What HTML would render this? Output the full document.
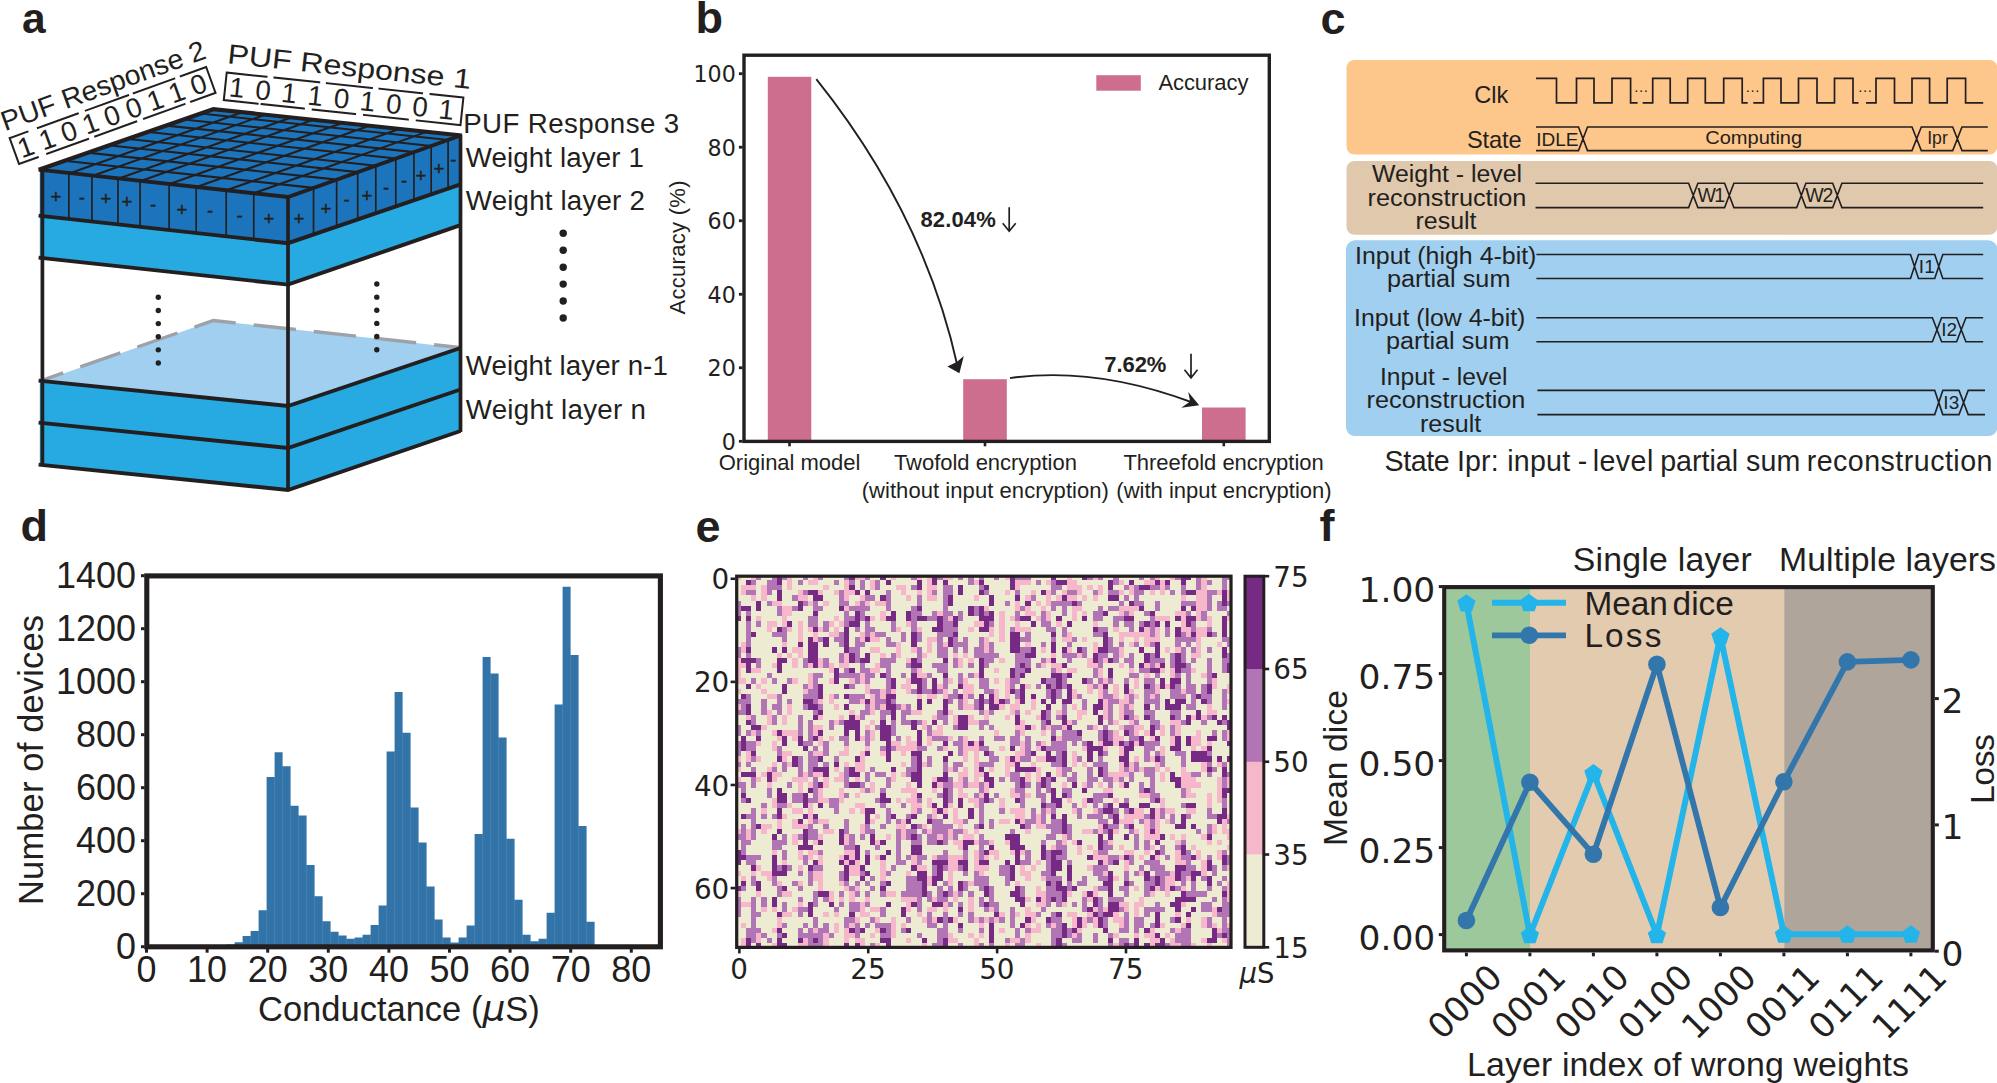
<!DOCTYPE html>
<html lang="en">
<head>
<meta charset="utf-8">
<title>Figure: PUF-based weight encryption</title>
<style>
html,body{margin:0;padding:0;background:#fff;}
body{width:1997px;height:1083px;overflow:hidden;}
svg{display:block;}
text{fill:#231F20;}
.s{font-family:"Liberation Sans",Arial,Helvetica,sans-serif;}
.d{font-family:"DejaVu Sans",Verdana,sans-serif;}
</style>
</head>
<body>
<svg width="1997" height="1083" viewBox="0 0 1997 1083">
<rect width="1997" height="1083" fill="#fff"/>
<g id="panel-a">
<text class="s" x="22" y="33.3" font-size="42.5" font-weight="bold" >a</text>
<polygon points="39.8,381 288,406 288,448 39.8,423" fill="#27AAE1" />
<polygon points="288,406 460.5,348 460.5,389.5 288,448" fill="#27AAE1" />
<polygon points="39.8,423 288,448 288,490 39.8,465" fill="#27AAE1" />
<polygon points="288,448 460.5,389.5 460.5,431 288,490" fill="#27AAE1" />
<polygon points="42.4,381 213.3,320.5 460.5,348 288,406" fill="#A0CFF0" />
<path d="M43.4 379.8 L213.3 320.5 L459.5 347.5" fill="none" stroke="#9DA2A8" stroke-width="3.4" stroke-dasharray="42.5 18" stroke-dashoffset="21.5"/>
<polygon points="39.8,216 288,243.2 288,284.6 39.8,258" fill="#27AAE1" />
<polygon points="288,243.2 460.5,184.3 460.5,225.2 288,284.6" fill="#27AAE1" />
<polygon points="39.8,170 288,197 288,243.2 39.8,216" fill="#1C75BC" />
<polygon points="288,197 460.5,135.5 460.5,184.3 288,243.2" fill="#1C75BC" />
<polygon points="41,170 213.3,109.2 460.8,135.5 288,197" fill="#1C75BC" />
<path d="M69.9 173.16L242.26 112.28M92.87 175.67L265.27 114.72M118.81 178.5L291.26 117.48M140.79 180.91L313.29 119.83M169.69 184.07L342.25 122.9M196.61 187.01L369.23 125.77M226.5 190.28L399.17 128.95M253.91 193.27L426.65 131.87M66.5 161L313.57 187.9M89.59 152.85L336.73 179.66M110.61 145.44L357.81 172.15M128.7 139.05L375.96 165.7M148.69 132L396 158.56M166.78 125.62L414.14 152.1M184.01 119.54L431.42 145.95M200.89 113.58L448.36 139.93" fill="none" stroke="#231F20" stroke-width="2.1"/>
<path d="M68.84 173.16V219.18M91.92 175.67V221.71M117.98 178.5V224.57M140.07 180.91V226.99M169.11 184.07V230.17M196.17 187.01V233.14M226.2 190.28V236.43M253.75 193.27V239.45M313.53 187.9V234.48M336.64 179.66V226.59M357.69 172.15V219.4M375.8 165.7V213.22M395.81 158.56V206.39M413.93 152.11V200.2M431.17 145.96V194.31M448.08 139.93V188.54" fill="none" stroke="#231F20" stroke-width="1.7"/>
<path d="M38.6 169.6L288 197L460.5 135.5M38.6 215.6L288 243.2L460.5 184.3M38.6 257.6L288 284.6L460.5 225.2M38.6 380.6L288 406L460.5 348M38.6 422.6L288 448L460.5 389.5M38.6 464.6L288 490L460.5 431" fill="none" stroke="#231F20" stroke-width="3.9" stroke-linejoin="miter"/>
<path d="M38.8 169.7L213.3 109.2L461.8 135.5" fill="none" stroke="#231F20" stroke-width="4.2" stroke-linejoin="miter"/>
<path d="M42.4 170V466M288 197V491M460.5 134.5V432" fill="none" stroke="#231F20" stroke-width="3.7"/>
<text class="s" x="56" y="202.98" font-size="18.5" text-anchor="middle" stroke="#231F20" stroke-width="0.45">+</text>
<text class="s" x="81.8" y="203.6" font-size="18.5" text-anchor="middle" stroke="#231F20" stroke-width="0.45">-</text>
<text class="s" x="106" y="204.98" font-size="18.5" text-anchor="middle" stroke="#231F20" stroke-width="0.45">+</text>
<text class="s" x="127" y="207.68" font-size="18.5" text-anchor="middle" stroke="#231F20" stroke-width="0.45">+</text>
<text class="s" x="153" y="211.1" font-size="18.5" text-anchor="middle" stroke="#231F20" stroke-width="0.45">-</text>
<text class="s" x="182" y="215.68" font-size="18.5" text-anchor="middle" stroke="#231F20" stroke-width="0.45">+</text>
<text class="s" x="210" y="217.1" font-size="18.5" text-anchor="middle" stroke="#231F20" stroke-width="0.45">-</text>
<text class="s" x="239.5" y="222.1" font-size="18.5" text-anchor="middle" stroke="#231F20" stroke-width="0.45">-</text>
<text class="s" x="269" y="224.68" font-size="18.5" text-anchor="middle" stroke="#231F20" stroke-width="0.45">+</text>
<text class="s" x="299" y="224.68" font-size="18.5" text-anchor="middle" stroke="#231F20" stroke-width="0.45">+</text>
<text class="s" x="326" y="215.48" font-size="18.5" text-anchor="middle" stroke="#231F20" stroke-width="0.45">+</text>
<text class="s" x="346.7" y="206.1" font-size="18.5" text-anchor="middle" stroke="#231F20" stroke-width="0.45">-</text>
<text class="s" x="367" y="201.68" font-size="18.5" text-anchor="middle" stroke="#231F20" stroke-width="0.45">+</text>
<text class="s" x="386" y="193.6" font-size="18.5" text-anchor="middle" stroke="#231F20" stroke-width="0.45">-</text>
<text class="s" x="404.2" y="186.8" font-size="18.5" text-anchor="middle" stroke="#231F20" stroke-width="0.45">-</text>
<text class="s" x="421" y="181.78" font-size="18.5" text-anchor="middle" stroke="#231F20" stroke-width="0.45">+</text>
<text class="s" x="438.9" y="174.68" font-size="18.5" text-anchor="middle" stroke="#231F20" stroke-width="0.45">+</text>
<text class="s" x="453.3" y="165.7" font-size="18.5" text-anchor="middle" stroke="#231F20" stroke-width="0.45">-</text>
<g fill="#231F20">
<circle cx="158.3" cy="297.3" r="2.7"/><circle cx="158.3" cy="310.44" r="2.7"/><circle cx="158.3" cy="323.58" r="2.7"/><circle cx="158.3" cy="336.72" r="2.7"/><circle cx="158.3" cy="349.86" r="2.7"/><circle cx="158.3" cy="363" r="2.7"/>
<circle cx="376.8" cy="284" r="2.7"/><circle cx="376.8" cy="297.14" r="2.7"/><circle cx="376.8" cy="310.28" r="2.7"/><circle cx="376.8" cy="323.42" r="2.7"/><circle cx="376.8" cy="336.56" r="2.7"/><circle cx="376.8" cy="349.7" r="2.7"/>
<circle cx="563.2" cy="233.3" r="3.7"/><circle cx="563.2" cy="250.24" r="3.7"/><circle cx="563.2" cy="267.18" r="3.7"/><circle cx="563.2" cy="284.12" r="3.7"/><circle cx="563.2" cy="301.06" r="3.7"/><circle cx="563.2" cy="318" r="3.7"/>
</g>
<text class="s" x="463.2" y="132.8" font-size="27.7" textLength="216" lengthAdjust="spacing" >PUF Response 3</text>
<text class="s" x="465.8" y="166.7" font-size="27.7" textLength="178" lengthAdjust="spacing" >Weight layer 1</text>
<text class="s" x="465.8" y="209.9" font-size="27.7" textLength="179" lengthAdjust="spacing" >Weight layer 2</text>
<text class="s" x="465.8" y="374.6" font-size="27.7" textLength="202" lengthAdjust="spacing" >Weight layer n-1</text>
<text class="s" x="465.8" y="418.6" font-size="27.7" textLength="180" lengthAdjust="spacing" >Weight layer n</text>
<g transform="translate(19 164) rotate(-19.9)">
<path d="M0 0V-27.5M209 0V-27.5M0 -27.5H19M30 -27.5H72.5M81 -27.5H126M132 -27.5H175M182 -27.5H209M0 0H20M30 0H73.5M81 0H124.7M133 0H176M183 0H209" fill="none" stroke="#231F20" stroke-width="2" stroke-linecap="square"/>
<text class="s" x="4.5" y="-4.2" font-size="27.7" textLength="199" lengthAdjust="spacing" >1 1 0 1 0 0 1 1 0</text>
<text class="s" x="-2" y="-35.5" font-size="27.7" textLength="215.5" lengthAdjust="spacingAndGlyphs" >PUF Response 2</text>
</g>
<g transform="translate(223.8 100.1) rotate(6.03)">
<path d="M0 0V-27.7M238 0V-27.7M0 -27.7H40M48 -27.7H93M100.7 -27.7H146M153.6 -27.7H196.4M205 -27.7H238M0 0H34M38 0H80.5M89.4 0H132M141 0H185M194 0H238" fill="none" stroke="#231F20" stroke-width="2" stroke-linecap="square"/>
<text class="s" x="4" y="-4.4" font-size="27.7" textLength="226" lengthAdjust="spacing" >1 0 1 1 0 1 0 0 1</text>
<text class="s" x="-1" y="-37" font-size="27.7" textLength="245" lengthAdjust="spacingAndGlyphs" >PUF Response 1</text>
</g>
</g>
<g id="panel-b">
<text class="s" x="695.5" y="33.3" font-size="45" font-weight="bold" >b</text>
<rect x="767.8" y="76.8" width="43.5" height="364.6" fill="#CE6E8F" />
<rect x="963.2" y="379.2" width="43.6" height="62.2" fill="#CE6E8F" />
<rect x="1202" y="407.5" width="43.6" height="33.9" fill="#CE6E8F" />
<rect x="744" y="55.2" width="525.3" height="386.2" fill="none" stroke="#231F20" stroke-width="3.4" />
<line x1="738.9" y1="441.3" x2="742.5" y2="441.3" stroke="#231F20" stroke-width="2.8" />
<text class="d" x="735.8" y="449.9" font-size="23.5" text-anchor="end" textLength="14.1" lengthAdjust="spacingAndGlyphs" >0</text>
<line x1="738.9" y1="367.78" x2="742.5" y2="367.78" stroke="#231F20" stroke-width="2.8" />
<text class="d" x="735.8" y="376.38" font-size="23.5" text-anchor="end" textLength="28.2" lengthAdjust="spacingAndGlyphs" >20</text>
<line x1="738.9" y1="294.26" x2="742.5" y2="294.26" stroke="#231F20" stroke-width="2.8" />
<text class="d" x="735.8" y="302.86" font-size="23.5" text-anchor="end" textLength="28.2" lengthAdjust="spacingAndGlyphs" >40</text>
<line x1="738.9" y1="220.74" x2="742.5" y2="220.74" stroke="#231F20" stroke-width="2.8" />
<text class="d" x="735.8" y="229.34" font-size="23.5" text-anchor="end" textLength="28.2" lengthAdjust="spacingAndGlyphs" >60</text>
<line x1="738.9" y1="147.22" x2="742.5" y2="147.22" stroke="#231F20" stroke-width="2.8" />
<text class="d" x="735.8" y="155.82" font-size="23.5" text-anchor="end" textLength="28.2" lengthAdjust="spacingAndGlyphs" >80</text>
<line x1="738.9" y1="73.7" x2="742.5" y2="73.7" stroke="#231F20" stroke-width="2.8" />
<text class="d" x="735.8" y="82.3" font-size="23.5" text-anchor="end" textLength="42.3" lengthAdjust="spacingAndGlyphs" >100</text>
<line x1="789.5" y1="443" x2="789.5" y2="446.3" stroke="#231F20" stroke-width="2.6" />
<line x1="985" y1="443" x2="985" y2="446.3" stroke="#231F20" stroke-width="2.6" />
<line x1="1223.8" y1="443" x2="1223.8" y2="446.3" stroke="#231F20" stroke-width="2.6" />
<text class="s" font-size="22" text-anchor="middle" textLength="134" lengthAdjust="spacing" transform="translate(684.6 247.5) rotate(-90)" >Accuracy (%)</text>
<text class="s" x="789.6" y="469.9" font-size="22" text-anchor="middle" textLength="141.7" lengthAdjust="spacing" >Original model</text>
<text class="s" x="985.4" y="469.9" font-size="22" text-anchor="middle" textLength="183" lengthAdjust="spacing" >Twofold encryption</text>
<text class="s" x="985.3" y="498.3" font-size="22" text-anchor="middle" textLength="247.3" lengthAdjust="spacing" >(without input encryption)</text>
<text class="s" x="1223.6" y="469.9" font-size="22" text-anchor="middle" textLength="200.4" lengthAdjust="spacing" >Threefold encryption</text>
<text class="s" x="1224" y="498.3" font-size="22" text-anchor="middle" textLength="215.4" lengthAdjust="spacing" >(with input encryption)</text>
<rect x="1096.3" y="75.2" width="44.5" height="15.5" fill="#CE6E8F" />
<text class="s" x="1158.4" y="90.2" font-size="22" textLength="90" lengthAdjust="spacing" >Accuracy</text>
<text class="s" x="920.5" y="227.2" font-size="22" font-weight="bold" textLength="75.2" lengthAdjust="spacing" >82.04%</text>
<path d="M1009.2 207.2V231.2M1002.7 223.2L1009.2 231.2L1015.7 223.2" fill="none" stroke="#231F20" stroke-width="1.7" stroke-linejoin="miter"/>
<text class="s" x="1104.2" y="372.2" font-size="22" font-weight="bold" textLength="62.2" lengthAdjust="spacing" >7.62%</text>
<path d="M1191 353.8V377.8M1184.5 369.8L1191 377.8L1197.5 369.8" fill="none" stroke="#231F20" stroke-width="1.7" stroke-linejoin="miter"/>
<path d="M816.3 79.2Q924 214 957.6 366.5" fill="none" stroke="#231F20" stroke-width="1.9"/>
<polygon points="959.4,373.2 947.4,366.6 956.8,362 963.8,356" fill="#231F20" />
<path d="M1010 378.1Q1095 366 1192.5 402.5" fill="none" stroke="#231F20" stroke-width="1.9"/>
<polygon points="1199.2,405.3 1181.2,407.8 1190.2,401.6 1188.2,391.9" fill="#231F20" />
</g>
<g id="panel-c">
<text class="s" x="1320.5" y="33.5" font-size="45" font-weight="bold" >c</text>
<rect x="1346.5" y="60" width="650.8" height="94.6" rx="8" fill="#FDC68A"/>
<rect x="1346.5" y="161" width="650.8" height="73.8" rx="8" fill="#E0C8AC"/>
<rect x="1346" y="240.3" width="651.3" height="195.8" rx="9" fill="#A1CFF0"/>
<path d="M1536 78.3H1556.5V102.8H1576.5V78.3H1594V102.8H1612V78.3H1630.6V102.8H1637.6M1642.6 102.8H1652.7V78.3H1670.2V102.8H1687.7V78.3H1705.3V102.8H1723.7V78.3H1742.2V102.8H1747.7M1753.3 102.8H1763.4V78.3H1781V102.8H1798.5V78.3H1817V102.8H1834.5V78.3H1853V102.8H1858.5M1866 102.8H1876V78.3H1894.5V102.8H1912V78.3H1929.6V102.8H1947.2V78.3H1965.6V102.8H1983.2" fill="none" stroke="#231F20" stroke-width="1.7" stroke-linejoin="miter"/>
<text class="s" x="1634.2" y="91.5" font-size="15" textLength="13.6" lengthAdjust="spacing" >...</text>
<text class="s" x="1745.8" y="91.5" font-size="15" textLength="13.6" lengthAdjust="spacing" >...</text>
<text class="s" x="1858.2" y="91.5" font-size="15" textLength="13.6" lengthAdjust="spacing" >...</text>
<text class="s" x="1474.3" y="103" font-size="23.6" textLength="34" lengthAdjust="spacing" >Clk</text>
<text class="s" x="1467" y="148.2" font-size="23.6" textLength="54.5" lengthAdjust="spacing" >State</text>
<path d="M1536 127H1578.5L1587.5 150.6H1912L1921.3 127H1952.7L1962 150.6H1987.8M1536 150.6H1578.5L1587.5 127H1912L1921.3 150.6H1952.7L1962 127H1987.8" fill="none" stroke="#231F20" stroke-width="1.6" stroke-linejoin="miter"/>
<text class="s" x="1536.2" y="145.8" font-size="19" textLength="42.3" lengthAdjust="spacingAndGlyphs" >IDLE</text>
<text class="s" x="1753.7" y="143.8" font-size="19" text-anchor="middle" textLength="97" lengthAdjust="spacingAndGlyphs" >Computing</text>
<text class="s" x="1937.5" y="143.8" font-size="19" text-anchor="middle" textLength="20.6" lengthAdjust="spacingAndGlyphs" >Ipr</text>
<text class="s" x="1447" y="181.5" font-size="23" text-anchor="middle" textLength="150" lengthAdjust="spacingAndGlyphs" >Weight - level</text>
<text class="s" x="1447" y="205.5" font-size="23" text-anchor="middle" textLength="158.8" lengthAdjust="spacingAndGlyphs" >reconstruction</text>
<text class="s" x="1446" y="229.4" font-size="23" text-anchor="middle" textLength="61" lengthAdjust="spacingAndGlyphs" >result</text>
<path d="M1535.5 183.2H1688.6L1697.9 207.6H1724.6L1733.9 183.2H1796.7L1805.9 207.6H1832.7L1841.9 183.2H1983.2M1535.5 207.6H1688.6L1697.9 183.2H1724.6L1733.9 207.6H1796.7L1805.9 183.2H1832.7L1841.9 207.6H1983.2" fill="none" stroke="#231F20" stroke-width="1.6" stroke-linejoin="miter"/>
<text class="s" x="1711.3" y="201.7" font-size="19.5" text-anchor="middle" textLength="27.5" lengthAdjust="spacing" >W1</text>
<text class="s" x="1819.3" y="201.7" font-size="19.5" text-anchor="middle" textLength="28" lengthAdjust="spacing" >W2</text>
<text class="s" x="1445.7" y="263.8" font-size="23" text-anchor="middle" textLength="181.4" lengthAdjust="spacingAndGlyphs" >Input (high 4-bit)</text>
<text class="s" x="1448.7" y="286.9" font-size="23" text-anchor="middle" textLength="123.4" lengthAdjust="spacingAndGlyphs" >partial sum</text>
<path d="M1536.4 254.5H1910.5L1918.5 278.5H1934.7L1942.8 254.5H1983.2M1536.4 278.5H1910.5L1918.5 254.5H1934.7L1942.8 278.5H1983.2" fill="none" stroke="#231F20" stroke-width="1.6" stroke-linejoin="miter"/>
<text class="s" x="1926.8" y="272.7" font-size="19" text-anchor="middle" >I1</text>
<text class="s" x="1439.7" y="326" font-size="23" text-anchor="middle" textLength="171.4" lengthAdjust="spacingAndGlyphs" >Input (low 4-bit)</text>
<text class="s" x="1447.7" y="349.2" font-size="23" text-anchor="middle" textLength="123.4" lengthAdjust="spacingAndGlyphs" >partial sum</text>
<path d="M1536.4 317.7H1932.4L1941.6 341.8H1956.6L1965.9 317.7H1983.2M1536.4 341.8H1932.4L1941.6 317.7H1956.6L1965.9 341.8H1983.2" fill="none" stroke="#231F20" stroke-width="1.6" stroke-linejoin="miter"/>
<text class="s" x="1949.2" y="336.4" font-size="19" text-anchor="middle" >I2</text>
<text class="s" x="1443.7" y="385.2" font-size="23" text-anchor="middle" textLength="127.4" lengthAdjust="spacingAndGlyphs" >Input - level</text>
<text class="s" x="1446" y="408.3" font-size="23" text-anchor="middle" textLength="158.9" lengthAdjust="spacingAndGlyphs" >reconstruction</text>
<text class="s" x="1450.6" y="432.3" font-size="23" text-anchor="middle" textLength="61.3" lengthAdjust="spacingAndGlyphs" >result</text>
<path d="M1537.4 390.4H1934.7L1942.8 414.6H1959L1968.2 390.4H1985M1537.4 414.6H1934.7L1942.8 390.4H1959L1968.2 414.6H1985" fill="none" stroke="#231F20" stroke-width="1.6" stroke-linejoin="miter"/>
<text class="s" x="1951.3" y="408.9" font-size="19" text-anchor="middle" >I3</text>
<text class="s" y="470.6" font-size="28.6"><tspan x="1384.41" textLength="65.37" lengthAdjust="spacing">State</tspan> <tspan x="1456.93" textLength="41.77" lengthAdjust="spacing">Ipr:</tspan> <tspan x="1507.14" textLength="62.97" lengthAdjust="spacing">input</tspan> <tspan x="1577.66">- </tspan><tspan x="1592.64" textLength="60.67" lengthAdjust="spacing">level</tspan> <tspan x="1660.14" textLength="77.97" lengthAdjust="spacing">partial</tspan> <tspan x="1745.94" textLength="54.37" lengthAdjust="spacing">sum</tspan> <tspan x="1806.74" textLength="185.67" lengthAdjust="spacing">reconstruction</tspan></text>
</g>
<g id="panel-d">
<text class="s" x="20.5" y="541.3" font-size="45" font-weight="bold" >d</text>
<path d="M218.6 946.7V945.91H226.6V944.58H234.6V942.2H242.6V936.1H250.6V931.07H258.6V910.13H266.6V777.1H274.6V752.19H282.6V766.24H290.6V805.72H298.6V815.53H306.6V865.08H314.6V896.35H322.6V921.26H330.6V931.86H338.6V935.57H346.6V938.75H354.6V937.43H362.6V934.78H370.6V924.97H378.6V905.62H386.6V751.39H394.6V692.04H402.6V732.85H410.6V807.58H418.6V842.56H426.6V886.55H434.6V919.41H442.6V937.43H450.6V942.46H458.6V937.43H466.6V925.5H474.6V834.08H482.6V657.06H490.6V673.49H498.6V737.62H506.6V838.85H514.6V899.8H522.6V934.78H530.6V941.13H538.6V938.75H546.6V912.78H554.6V704.49H562.6V586.83H570.6V654.94H578.6V826.12H586.6V921.79H594.6V946.7Z" fill="#3274A8"/>
<path d="M234.6 944.58V946.7M242.6 942.2V946.7M250.6 936.1V946.7M258.6 931.07V946.7M266.6 910.13V946.7M274.6 777.1V946.7M282.6 766.24V946.7M290.6 805.72V946.7M298.6 815.53V946.7M306.6 865.08V946.7M314.6 896.35V946.7M322.6 921.26V946.7M330.6 931.86V946.7M338.6 935.57V946.7M346.6 938.75V946.7M354.6 938.75V946.7M362.6 937.43V946.7M370.6 934.78V946.7M378.6 924.97V946.7M386.6 905.62V946.7M394.6 751.39V946.7M402.6 732.85V946.7M410.6 807.58V946.7M418.6 842.56V946.7M426.6 886.55V946.7M434.6 919.41V946.7M442.6 937.43V946.7M450.6 942.46V946.7M458.6 942.46V946.7M466.6 937.43V946.7M474.6 925.5V946.7M482.6 834.08V946.7M490.6 673.49V946.7M498.6 737.62V946.7M506.6 838.85V946.7M514.6 899.8V946.7M522.6 934.78V946.7M530.6 941.13V946.7M538.6 941.13V946.7M546.6 938.75V946.7M554.6 912.78V946.7M562.6 704.49V946.7M570.6 654.94V946.7M578.6 826.12V946.7M586.6 921.79V946.7" fill="none" stroke="#5A8FBC" stroke-width="0.5"/>
<rect x="146.8" y="575.9" width="513.6" height="370.9" fill="none" stroke="#231F20" stroke-width="5.1" />
<line x1="141" y1="946.7" x2="144.6" y2="946.7" stroke="#231F20" stroke-width="3" />
<text class="s" x="135.9" y="959.3" font-size="37.4" text-anchor="end" textLength="20" lengthAdjust="spacingAndGlyphs" >0</text>
<line x1="141" y1="893.7" x2="144.6" y2="893.7" stroke="#231F20" stroke-width="3" />
<text class="s" x="135.9" y="906.3" font-size="37.4" text-anchor="end" textLength="60" lengthAdjust="spacingAndGlyphs" >200</text>
<line x1="141" y1="840.7" x2="144.6" y2="840.7" stroke="#231F20" stroke-width="3" />
<text class="s" x="135.9" y="853.3" font-size="37.4" text-anchor="end" textLength="60" lengthAdjust="spacingAndGlyphs" >400</text>
<line x1="141" y1="787.7" x2="144.6" y2="787.7" stroke="#231F20" stroke-width="3" />
<text class="s" x="135.9" y="800.3" font-size="37.4" text-anchor="end" textLength="60" lengthAdjust="spacingAndGlyphs" >600</text>
<line x1="141" y1="734.7" x2="144.6" y2="734.7" stroke="#231F20" stroke-width="3" />
<text class="s" x="135.9" y="747.3" font-size="37.4" text-anchor="end" textLength="60" lengthAdjust="spacingAndGlyphs" >800</text>
<line x1="141" y1="681.7" x2="144.6" y2="681.7" stroke="#231F20" stroke-width="3" />
<text class="s" x="135.9" y="694.3" font-size="37.4" text-anchor="end" textLength="80" lengthAdjust="spacingAndGlyphs" >1000</text>
<line x1="141" y1="628.7" x2="144.6" y2="628.7" stroke="#231F20" stroke-width="3" />
<text class="s" x="135.9" y="641.3" font-size="37.4" text-anchor="end" textLength="80" lengthAdjust="spacingAndGlyphs" >1200</text>
<line x1="141" y1="575.7" x2="144.6" y2="575.7" stroke="#231F20" stroke-width="3" />
<text class="s" x="135.9" y="588.3" font-size="37.4" text-anchor="end" textLength="80" lengthAdjust="spacingAndGlyphs" >1400</text>
<line x1="146.5" y1="949" x2="146.5" y2="952.7" stroke="#231F20" stroke-width="3" />
<text class="s" x="146.5" y="981.9" font-size="37.4" text-anchor="middle" textLength="20" lengthAdjust="spacingAndGlyphs" >0</text>
<line x1="207.1" y1="949" x2="207.1" y2="952.7" stroke="#231F20" stroke-width="3" />
<text class="s" x="207.1" y="981.9" font-size="37.4" text-anchor="middle" textLength="40" lengthAdjust="spacingAndGlyphs" >10</text>
<line x1="267.7" y1="949" x2="267.7" y2="952.7" stroke="#231F20" stroke-width="3" />
<text class="s" x="267.7" y="981.9" font-size="37.4" text-anchor="middle" textLength="40" lengthAdjust="spacingAndGlyphs" >20</text>
<line x1="328.3" y1="949" x2="328.3" y2="952.7" stroke="#231F20" stroke-width="3" />
<text class="s" x="328.3" y="981.9" font-size="37.4" text-anchor="middle" textLength="40" lengthAdjust="spacingAndGlyphs" >30</text>
<line x1="388.9" y1="949" x2="388.9" y2="952.7" stroke="#231F20" stroke-width="3" />
<text class="s" x="388.9" y="981.9" font-size="37.4" text-anchor="middle" textLength="40" lengthAdjust="spacingAndGlyphs" >40</text>
<line x1="449.5" y1="949" x2="449.5" y2="952.7" stroke="#231F20" stroke-width="3" />
<text class="s" x="449.5" y="981.9" font-size="37.4" text-anchor="middle" textLength="40" lengthAdjust="spacingAndGlyphs" >50</text>
<line x1="510.1" y1="949" x2="510.1" y2="952.7" stroke="#231F20" stroke-width="3" />
<text class="s" x="510.1" y="981.9" font-size="37.4" text-anchor="middle" textLength="40" lengthAdjust="spacingAndGlyphs" >60</text>
<line x1="570.7" y1="949" x2="570.7" y2="952.7" stroke="#231F20" stroke-width="3" />
<text class="s" x="570.7" y="981.9" font-size="37.4" text-anchor="middle" textLength="40" lengthAdjust="spacingAndGlyphs" >70</text>
<line x1="631.3" y1="949" x2="631.3" y2="952.7" stroke="#231F20" stroke-width="3" />
<text class="s" x="631.3" y="981.9" font-size="37.4" text-anchor="middle" textLength="40" lengthAdjust="spacingAndGlyphs" >80</text>
<text class="s" font-size="34.5" text-anchor="middle" textLength="290" lengthAdjust="spacing" transform="translate(42.7 760) rotate(-90)" >Number of devices</text>
<text class="s" x="258" y="1021.2" font-size="34.5">Conductance (<tspan class="d" font-style="italic" font-size="36">μ</tspan>S)</text>
</g>
<g id="panel-e">
<text class="s" x="695.5" y="542" font-size="45" font-weight="bold" >e</text>
<rect x="735.5" y="574.6" width="496.9" height="374" fill="#EDECD3" />
<g transform="translate(735.5 574.6) scale(5.1760 5.1944)" shape-rendering="crispEdges">
<path d="M0 0v1h1v-1zM0 16v5h1v-5zM0 22v1h1v-1zM0 25v1h1v-1zM0 35v1h1v-1zM0 37v1h1v-1zM0 39v1h1v-1zM0 49v1h1v-1zM0 57v1h1v-1zM0 61v1h1v-1zM1 2v2h1v-2zM1 13v2h1v-2zM1 17v1h1v-1zM1 20v1h1v-1zM1 58v1h1v-1zM1 63v1h1v-1zM1 67v1h1v-1zM1 70v2h1v-2zM2 2v1h1v-1zM2 27v1h1v-1zM2 34v2h1v-2zM2 49v2h1v-2zM2 63v1h1v-1zM3 0v1h1v-1zM3 2v1h1v-1zM3 4v1h1v-1zM3 18v1h1v-1zM3 30v1h1v-1zM3 57v1h1v-1zM4 8v1h1v-1zM4 18v1h1v-1zM4 21v1h1v-1zM4 32v1h1v-1zM4 35v1h1v-1zM4 39v1h1v-1zM4 56v1h1v-1zM4 61v1h1v-1zM4 69v2h1v-2zM5 2v3h1v-3zM5 20v1h1v-1zM5 22v1h1v-1zM5 29v1h1v-1zM5 38v1h1v-1zM5 45v1h1v-1zM5 48v2h1v-2zM5 57v1h1v-1zM5 64v1h1v-1zM6 9v2h1v-2zM6 23v1h1v-1zM6 26v3h1v-3zM6 37v1h1v-1zM6 40v1h1v-1zM6 48v1h1v-1zM6 57v2h1v-2zM7 5v1h1v-1zM7 9v1h1v-1zM7 17v1h1v-1zM7 23v1h1v-1zM7 30v1h1v-1zM7 32v2h1v-2zM7 36v1h1v-1zM7 38v2h1v-2zM7 43v2h1v-2zM7 53v1h1v-1zM7 64v1h1v-1zM7 68v1h1v-1zM7 71v1h1v-1zM8 5v1h1v-1zM8 15v1h1v-1zM8 31v1h1v-1zM8 38v1h1v-1zM8 47v2h1v-2zM8 59v1h1v-1zM8 66v2h1v-2zM9 6v4h1v-4zM9 13v1h1v-1zM9 27v2h1v-2zM9 30v1h1v-1zM9 34v2h1v-2zM9 46v1h1v-1zM9 55v1h1v-1zM9 61v1h1v-1zM9 65v1h1v-1zM10 0v3h1v-3zM10 6v2h1v-2zM10 10v1h1v-1zM10 15v1h1v-1zM10 25v2h1v-2zM10 30v1h1v-1zM10 34v1h1v-1zM10 36v1h1v-1zM10 44v1h1v-1zM10 61v1h1v-1zM10 65v1h1v-1zM11 14v1h1v-1zM11 16v2h1v-2zM11 20v1h1v-1zM11 30v2h1v-2zM11 39v1h1v-1zM11 45v1h1v-1zM11 47v2h1v-2zM11 50v2h1v-2zM11 64v1h1v-1zM12 3v2h1v-2zM12 9v4h1v-4zM12 14v2h1v-2zM12 39v3h1v-3zM12 45v1h1v-1zM12 48v1h1v-1zM12 53v2h1v-2zM12 56v1h1v-1zM12 59v1h1v-1zM12 63v1h1v-1zM12 71v1h1v-1zM13 4v1h1v-1zM13 22v1h1v-1zM13 38v2h1v-2zM13 48v1h1v-1zM13 70v2h1v-2zM14 1v1h1v-1zM14 5v1h1v-1zM14 10v1h1v-1zM14 17v1h1v-1zM14 19v3h1v-3zM14 40v1h1v-1zM14 44v4h1v-4zM14 53v2h1v-2zM15 0v2h1v-2zM15 11v2h1v-2zM15 29v2h1v-2zM15 34v1h1v-1zM15 38v1h1v-1zM15 51v1h1v-1zM15 53v1h1v-1zM15 57v2h1v-2zM15 68v1h1v-1zM16 3v1h1v-1zM16 10v1h1v-1zM16 16v2h1v-2zM16 24v1h1v-1zM16 27v1h1v-1zM16 29v1h1v-1zM16 31v2h1v-2zM16 34v1h1v-1zM16 38v1h1v-1zM16 41v3h1v-3zM16 47v1h1v-1zM16 50v1h1v-1zM16 54v2h1v-2zM16 57v4h1v-4zM17 2v1h1v-1zM17 5v1h1v-1zM17 39v2h1v-2zM17 43v1h1v-1zM17 47v1h1v-1zM17 49v1h1v-1zM17 65v1h1v-1zM17 69v3h1v-3zM18 9v1h1v-1zM18 11v1h1v-1zM18 17v2h1v-2zM18 20v1h1v-1zM18 23v2h1v-2zM18 31v1h1v-1zM18 49v1h1v-1zM18 61v2h1v-2zM19 3v1h1v-1zM19 8v1h1v-1zM19 10v2h1v-2zM19 25v1h1v-1zM19 28v1h1v-1zM19 37v1h1v-1zM19 39v1h1v-1zM19 65v1h1v-1zM19 67v2h1v-2zM20 9v1h1v-1zM20 17v1h1v-1zM20 27v1h1v-1zM20 34v1h1v-1zM20 38v2h1v-2zM20 41v3h1v-3zM20 54v1h1v-1zM20 59v1h1v-1zM20 62v1h1v-1zM21 1v4h1v-4zM21 6v1h1v-1zM21 15v3h1v-3zM21 33v2h1v-2zM21 36v1h1v-1zM21 50v2h1v-2zM21 53v1h1v-1zM21 55v1h1v-1zM21 60v1h1v-1zM21 68v3h1v-3zM22 3v1h1v-1zM22 20v1h1v-1zM22 26v1h1v-1zM22 45v1h1v-1zM22 53v2h1v-2zM22 56v2h1v-2zM22 61v2h1v-2zM22 67v1h1v-1zM22 69v1h1v-1zM23 0v1h1v-1zM23 5v1h1v-1zM23 27v1h1v-1zM23 36v2h1v-2zM23 39v1h1v-1zM23 42v1h1v-1zM23 44v1h1v-1zM23 55v3h1v-3zM23 60v1h1v-1zM23 66v1h1v-1zM23 70v1h1v-1zM24 0v1h1v-1zM24 4v1h1v-1zM24 11v2h1v-2zM24 19v2h1v-2zM24 24v1h1v-1zM24 31v1h1v-1zM24 34v4h1v-4zM24 41v1h1v-1zM24 44v2h1v-2zM24 48v2h1v-2zM24 63v3h1v-3zM24 70v2h1v-2zM25 5v1h1v-1zM25 21v2h1v-2zM25 29v1h1v-1zM25 33v1h1v-1zM25 62v1h1v-1zM25 65v1h1v-1zM26 1v2h1v-2zM26 8v1h1v-1zM26 11v2h1v-2zM26 14v1h1v-1zM26 18v1h1v-1zM26 23v4h1v-4zM26 28v1h1v-1zM26 30v2h1v-2zM26 40v2h1v-2zM26 47v1h1v-1zM26 64v1h1v-1zM26 69v1h1v-1zM27 5v1h1v-1zM27 12v1h1v-1zM27 14v1h1v-1zM27 17v2h1v-2zM27 46v1h1v-1zM27 51v1h1v-1zM27 54v1h1v-1zM27 64v1h1v-1zM27 66v1h1v-1zM27 68v1h1v-1zM27 71v1h1v-1zM28 5v1h1v-1zM28 7v2h1v-2zM28 15v1h1v-1zM28 22v2h1v-2zM28 25v1h1v-1zM28 34v1h1v-1zM28 55v4h1v-4zM29 50v1h1v-1zM29 61v1h1v-1zM30 0v1h1v-1zM30 22v1h1v-1zM30 32v1h1v-1zM30 38v2h1v-2zM30 61v1h1v-1zM30 66v4h1v-4zM31 2v1h1v-1zM31 10v1h1v-1zM31 13v3h1v-3zM31 32v2h1v-2zM31 43v1h1v-1zM31 48v1h1v-1zM32 2v2h1v-2zM32 21v1h1v-1zM32 25v1h1v-1zM32 33v2h1v-2zM32 36v1h1v-1zM32 38v1h1v-1zM32 41v1h1v-1zM32 47v4h1v-4zM32 62v1h1v-1zM32 67v1h1v-1zM33 4v1h1v-1zM33 9v1h1v-1zM33 16v1h1v-1zM33 20v3h1v-3zM33 31v3h1v-3zM33 40v2h1v-2zM33 43v1h1v-1zM33 57v1h1v-1zM33 62v3h1v-3zM33 70v1h1v-1zM34 14v1h1v-1zM34 26v1h1v-1zM34 32v2h1v-2zM34 41v5h1v-5zM34 54v2h1v-2zM34 62v1h1v-1zM35 0v1h1v-1zM35 3v1h1v-1zM35 10v1h1v-1zM35 18v2h1v-2zM35 23v1h1v-1zM35 26v1h1v-1zM35 44v1h1v-1zM35 56v1h1v-1zM35 65v1h1v-1zM36 15v1h1v-1zM36 19v1h1v-1zM36 28v2h1v-2zM36 36v1h1v-1zM36 48v1h1v-1zM36 56v1h1v-1zM36 66v1h1v-1zM36 71v1h1v-1zM37 0v5h1v-5zM37 12v3h1v-3zM37 23v1h1v-1zM37 31v2h1v-2zM37 43v2h1v-2zM37 49v1h1v-1zM37 58v2h1v-2zM37 64v1h1v-1zM38 2v1h1v-1zM38 4v1h1v-1zM38 12v1h1v-1zM38 23v1h1v-1zM38 27v1h1v-1zM38 30v1h1v-1zM38 39v1h1v-1zM38 41v1h1v-1zM38 45v2h1v-2zM38 54v1h1v-1zM38 62v1h1v-1zM38 64v1h1v-1zM38 66v1h1v-1zM39 7v1h1v-1zM39 21v1h1v-1zM39 29v2h1v-2zM39 40v1h1v-1zM39 50v1h1v-1zM40 0v1h1v-1zM40 13v1h1v-1zM40 22v2h1v-2zM40 33v1h1v-1zM40 45v1h1v-1zM40 63v2h1v-2zM41 0v1h1v-1zM41 8v1h1v-1zM41 20v1h1v-1zM41 26v1h1v-1zM41 31v1h1v-1zM41 37v1h1v-1zM41 44v1h1v-1zM41 49v2h1v-2zM41 54v6h1v-6zM41 69v2h1v-2zM42 15v1h1v-1zM42 27v2h1v-2zM42 40v1h1v-1zM42 45v3h1v-3zM42 51v1h1v-1zM42 54v3h1v-3zM42 61v2h1v-2zM42 66v1h1v-1zM42 70v1h1v-1zM43 16v2h1v-2zM43 38v5h1v-5zM43 47v2h1v-2zM43 51v2h1v-2zM43 54v1h1v-1zM44 15v1h1v-1zM44 20v6h1v-6zM44 31v5h1v-5zM44 37v2h1v-2zM44 42v1h1v-1zM44 49v2h1v-2zM45 10v1h1v-1zM45 16v1h1v-1zM45 21v2h1v-2zM45 25v1h1v-1zM45 27v2h1v-2zM45 33v1h1v-1zM45 40v1h1v-1zM45 43v1h1v-1zM45 50v1h1v-1zM45 59v1h1v-1zM45 62v3h1v-3zM45 69v1h1v-1zM46 1v1h1v-1zM46 4v1h1v-1zM46 9v1h1v-1zM46 19v1h1v-1zM46 28v1h1v-1zM46 32v9h1v-9zM46 43v2h1v-2zM46 49v1h1v-1zM46 51v1h1v-1zM46 53v4h1v-4zM46 66v1h1v-1zM46 70v2h1v-2zM47 9v1h1v-1zM47 38v1h1v-1zM47 42v1h1v-1zM47 56v2h1v-2zM47 67v1h1v-1zM47 69v1h1v-1zM48 6v1h1v-1zM48 12v3h1v-3zM48 26v2h1v-2zM48 40v2h1v-2zM48 54v1h1v-1zM48 56v1h1v-1zM48 66v1h1v-1zM49 10v2h1v-2zM49 37v1h1v-1zM49 51v1h1v-1zM49 53v1h1v-1zM49 64v1h1v-1zM50 18v1h1v-1zM50 20v1h1v-1zM50 22v3h1v-3zM50 30v1h1v-1zM50 53v2h1v-2zM50 66v1h1v-1zM51 7v6h1v-6zM51 16v1h1v-1zM51 25v1h1v-1zM51 33v1h1v-1zM51 43v2h1v-2zM51 47v1h1v-1zM51 65v1h1v-1zM51 68v1h1v-1zM52 0v1h1v-1zM52 3v1h1v-1zM52 20v4h1v-4zM52 27v1h1v-1zM52 35v4h1v-4zM52 47v1h1v-1zM52 51v1h1v-1zM52 71v1h1v-1zM53 8v1h1v-1zM53 25v2h1v-2zM53 36v1h1v-1zM53 41v2h1v-2zM53 45v1h1v-1zM53 53v1h1v-1zM53 70v1h1v-1zM54 1v2h1v-2zM54 5v2h1v-2zM54 9v2h1v-2zM54 24v2h1v-2zM54 29v1h1v-1zM54 34v2h1v-2zM54 42v1h1v-1zM54 45v2h1v-2zM54 59v1h1v-1zM54 65v1h1v-1zM54 70v1h1v-1zM55 1v1h1v-1zM55 10v1h1v-1zM55 28v3h1v-3zM55 32v3h1v-3zM55 45v3h1v-3zM55 53v1h1v-1zM55 56v2h1v-2zM56 1v1h1v-1zM56 4v1h1v-1zM56 6v2h1v-2zM56 10v1h1v-1zM56 13v1h1v-1zM56 21v1h1v-1zM56 26v1h1v-1zM56 38v2h1v-2zM56 42v1h1v-1zM56 49v1h1v-1zM56 57v2h1v-2zM56 62v1h1v-1zM56 64v2h1v-2zM56 67v1h1v-1zM56 69v2h1v-2zM57 3v1h1v-1zM57 7v1h1v-1zM57 24v2h1v-2zM57 29v1h1v-1zM57 36v1h1v-1zM57 56v1h1v-1zM57 65v2h1v-2zM57 68v1h1v-1zM58 5v1h1v-1zM58 8v1h1v-1zM58 27v1h1v-1zM58 33v1h1v-1zM58 35v1h1v-1zM58 37v3h1v-3zM58 46v3h1v-3zM58 55v1h1v-1zM58 60v2h1v-2zM58 63v1h1v-1zM58 67v2h1v-2zM58 71v1h1v-1zM59 6v1h1v-1zM59 14v1h1v-1zM59 17v1h1v-1zM59 30v1h1v-1zM59 32v1h1v-1zM59 35v1h1v-1zM59 48v1h1v-1zM59 58v1h1v-1zM59 61v3h1v-3zM60 1v1h1v-1zM60 3v3h1v-3zM60 7v2h1v-2zM60 16v1h1v-1zM60 29v1h1v-1zM60 45v1h1v-1zM61 15v1h1v-1zM61 17v1h1v-1zM61 52v1h1v-1zM61 67v1h1v-1zM62 4v1h1v-1zM62 9v1h1v-1zM62 17v2h1v-2zM62 26v1h1v-1zM62 31v1h1v-1zM62 37v2h1v-2zM63 3v1h1v-1zM63 12v1h1v-1zM63 29v1h1v-1zM63 40v1h1v-1zM63 50v2h1v-2zM63 63v1h1v-1zM64 0v3h1v-3zM64 4v1h1v-1zM64 11v2h1v-2zM64 14v1h1v-1zM64 18v1h1v-1zM64 28v1h1v-1zM64 43v1h1v-1zM64 61v1h1v-1zM64 65v1h1v-1zM65 1v2h1v-2zM65 4v1h1v-1zM65 6v3h1v-3zM65 18v1h1v-1zM65 22v2h1v-2zM65 25v1h1v-1zM65 34v3h1v-3zM65 45v1h1v-1zM65 51v1h1v-1zM65 65v3h1v-3zM65 69v1h1v-1zM66 2v2h1v-2zM66 6v1h1v-1zM66 15v1h1v-1zM66 26v2h1v-2zM66 52v2h1v-2zM66 68v1h1v-1zM67 4v1h1v-1zM67 7v1h1v-1zM67 12v1h1v-1zM67 26v1h1v-1zM67 33v1h1v-1zM67 36v1h1v-1zM67 40v1h1v-1zM67 43v2h1v-2zM67 49v1h1v-1zM67 61v1h1v-1zM67 66v2h1v-2zM68 2v1h1v-1zM68 16v2h1v-2zM68 21v2h1v-2zM68 49v1h1v-1zM68 52v1h1v-1zM68 56v1h1v-1zM68 62v1h1v-1zM68 65v1h1v-1zM69 0v1h1v-1zM69 4v1h1v-1zM69 9v1h1v-1zM69 13v2h1v-2zM69 17v1h1v-1zM69 29v1h1v-1zM69 45v1h1v-1zM69 53v2h1v-2zM69 60v2h1v-2zM69 64v1h1v-1zM69 66v2h1v-2zM70 2v2h1v-2zM70 18v2h1v-2zM70 21v3h1v-3zM70 32v1h1v-1zM70 40v1h1v-1zM70 48v2h1v-2zM70 54v1h1v-1zM71 16v1h1v-1zM71 20v1h1v-1zM71 24v4h1v-4zM71 33v1h1v-1zM71 41v1h1v-1zM71 54v2h1v-2zM71 57v1h1v-1zM71 64v1h1v-1zM72 38v1h1v-1zM72 41v1h1v-1zM72 51v1h1v-1zM73 10v1h1v-1zM73 21v3h1v-3zM73 28v1h1v-1zM73 30v3h1v-3zM73 38v2h1v-2zM73 43v1h1v-1zM73 49v1h1v-1zM73 58v1h1v-1zM73 65v2h1v-2zM73 69v1h1v-1zM73 71v1h1v-1zM74 1v1h1v-1zM74 3v1h1v-1zM74 6v2h1v-2zM74 11v2h1v-2zM74 14v2h1v-2zM74 17v1h1v-1zM74 24v4h1v-4zM74 29v1h1v-1zM74 31v1h1v-1zM74 33v2h1v-2zM74 36v3h1v-3zM74 40v1h1v-1zM74 47v1h1v-1zM74 52v1h1v-1zM74 54v1h1v-1zM74 63v1h1v-1zM74 66v2h1v-2zM75 6v1h1v-1zM75 11v1h1v-1zM75 23v2h1v-2zM75 38v1h1v-1zM75 46v2h1v-2zM75 53v1h1v-1zM75 55v2h1v-2zM75 63v2h1v-2zM76 2v2h1v-2zM76 6v2h1v-2zM76 11v1h1v-1zM76 13v1h1v-1zM76 18v1h1v-1zM76 22v1h1v-1zM76 25v1h1v-1zM76 28v1h1v-1zM76 36v2h1v-2zM76 46v2h1v-2zM76 53v1h1v-1zM77 6v1h1v-1zM77 11v2h1v-2zM77 20v2h1v-2zM77 23v1h1v-1zM77 27v1h1v-1zM77 29v2h1v-2zM77 32v1h1v-1zM77 35v1h1v-1zM77 45v2h1v-2zM77 49v1h1v-1zM77 60v1h1v-1zM77 63v3h1v-3zM77 69v1h1v-1zM78 11v1h1v-1zM78 29v1h1v-1zM78 37v1h1v-1zM78 42v1h1v-1zM78 45v2h1v-2zM78 54v1h1v-1zM78 57v1h1v-1zM78 62v2h1v-2zM79 1v1h1v-1zM79 10v4h1v-4zM79 17v1h1v-1zM79 19v1h1v-1zM79 30v1h1v-1zM79 42v1h1v-1zM79 47v4h1v-4zM79 53v1h1v-1zM79 69v1h1v-1zM80 1v1h1v-1zM80 3v1h1v-1zM80 12v1h1v-1zM80 23v1h1v-1zM80 31v1h1v-1zM80 35v1h1v-1zM80 50v1h1v-1zM80 52v1h1v-1zM80 61v1h1v-1zM80 68v4h1v-4zM81 0v1h1v-1zM81 8v1h1v-1zM81 10v3h1v-3zM81 17v1h1v-1zM81 21v2h1v-2zM81 36v2h1v-2zM81 45v6h1v-6zM81 54v1h1v-1zM81 60v1h1v-1zM81 70v1h1v-1zM82 1v3h1v-3zM82 8v1h1v-1zM82 18v1h1v-1zM82 29v2h1v-2zM82 33v2h1v-2zM82 38v2h1v-2zM82 43v2h1v-2zM82 67v1h1v-1zM83 8v1h1v-1zM83 14v1h1v-1zM83 21v1h1v-1zM83 37v1h1v-1zM83 45v1h1v-1zM83 47v1h1v-1zM83 58v4h1v-4zM83 69v1h1v-1zM84 0v1h1v-1zM84 18v2h1v-2zM84 28v1h1v-1zM84 31v2h1v-2zM84 45v1h1v-1zM84 50v1h1v-1zM84 57v3h1v-3zM84 70v2h1v-2zM85 7v1h1v-1zM85 14v1h1v-1zM85 28v3h1v-3zM85 51v1h1v-1zM85 53v3h1v-3zM85 65v1h1v-1zM85 68v1h1v-1zM85 71v1h1v-1zM86 4v1h1v-1zM86 7v4h1v-4zM86 22v1h1v-1zM86 37v4h1v-4zM86 50v1h1v-1zM86 55v1h1v-1zM86 60v1h1v-1zM86 63v1h1v-1zM86 67v1h1v-1zM87 10v2h1v-2zM87 38v5h1v-5zM87 45v1h1v-1zM87 58v1h1v-1zM87 66v1h1v-1zM88 15v1h1v-1zM88 18v1h1v-1zM88 27v1h1v-1zM88 31v3h1v-3zM88 39v2h1v-2zM88 42v1h1v-1zM88 45v1h1v-1zM88 52v1h1v-1zM88 71v1h1v-1zM89 3v6h1v-6zM89 10v6h1v-6zM89 30v3h1v-3zM89 40v1h1v-1zM89 53v2h1v-2zM90 0v7h1v-7zM90 10v2h1v-2zM90 19v1h1v-1zM90 27v1h1v-1zM90 33v1h1v-1zM90 36v2h1v-2zM90 50v1h1v-1zM90 55v3h1v-3zM90 66v2h1v-2zM90 70v1h1v-1zM91 8v2h1v-2zM91 25v2h1v-2zM91 32v1h1v-1zM91 42v3h1v-3zM91 51v1h1v-1zM91 71v1h1v-1zM92 20v2h1v-2zM92 26v1h1v-1zM92 48v2h1v-2zM92 64v2h1v-2zM92 67v1h1v-1zM93 3v1h1v-1zM93 13v1h1v-1zM93 36v1h1v-1zM93 39v5h1v-5zM93 51v1h1v-1zM93 53v2h1v-2zM93 68v1h1v-1zM94 47v3h1v-3zM94 70v1h1v-1zM95 3v2h1v-2zM95 8v1h1v-1zM95 21v2h1v-2zM95 24v1h1v-1zM95 30v2h1v-2zM95 39v2h1v-2zM95 46v1h1v-1zM95 49v2h1v-2zM95 52v1h1v-1zM95 56v1h1v-1zM95 59v4h1v-4zM95 67v1h1v-1z" fill="#F5B7C9"/>
<path d="M0 5v3h1v-3zM0 14v2h1v-2zM0 24v1h1v-1zM0 26v1h1v-1zM0 29v2h1v-2zM0 32v3h1v-3zM0 36v1h1v-1zM0 40v1h1v-1zM0 50v1h1v-1zM0 62v4h1v-4zM1 24v3h1v-3zM1 40v2h1v-2zM1 43v1h1v-1zM1 48v6h1v-6zM1 60v1h1v-1zM2 3v1h1v-1zM2 7v1h1v-1zM2 9v5h1v-5zM2 15v1h1v-1zM2 23v2h1v-2zM2 30v1h1v-1zM2 32v2h1v-2zM2 36v1h1v-1zM2 46v1h1v-1zM2 51v1h1v-1zM2 54v2h1v-2zM2 68v2h1v-2zM3 1v1h1v-1zM3 3v1h1v-1zM3 20v1h1v-1zM3 27v2h1v-2zM3 32v2h1v-2zM3 35v1h1v-1zM3 37v1h1v-1zM3 39v2h1v-2zM3 45v6h1v-6zM3 54v2h1v-2zM3 58v2h1v-2zM3 62v9h1v-9zM4 0v1h1v-1zM4 9v1h1v-1zM4 16v2h1v-2zM4 30v1h1v-1zM4 54v1h1v-1zM4 65v1h1v-1zM4 68v1h1v-1zM5 24v3h1v-3zM5 44v1h1v-1zM5 46v1h1v-1zM5 62v2h1v-2zM5 69v1h1v-1zM6 1v3h1v-3zM6 5v1h1v-1zM6 19v1h1v-1zM6 41v2h1v-2zM6 70v1h1v-1zM7 0v3h1v-3zM7 11v1h1v-1zM7 20v1h1v-1zM7 25v1h1v-1zM7 27v2h1v-2zM7 37v1h1v-1zM7 46v1h1v-1zM7 51v2h1v-2zM7 58v2h1v-2zM8 2v1h1v-1zM8 6v2h1v-2zM8 11v1h1v-1zM8 23v4h1v-4zM8 33v2h1v-2zM8 44v1h1v-1zM8 51v2h1v-2zM8 56v1h1v-1zM8 60v2h1v-2zM8 69v1h1v-1zM9 0v1h1v-1zM9 10v3h1v-3zM9 36v2h1v-2zM9 44v1h1v-1zM9 50v2h1v-2zM9 53v2h1v-2zM9 63v2h1v-2zM9 67v1h1v-1zM10 20v1h1v-1zM10 24v1h1v-1zM10 40v1h1v-1zM10 56v1h1v-1zM11 4v1h1v-1zM11 6v1h1v-1zM11 42v2h1v-2zM11 59v1h1v-1zM12 1v1h1v-1zM12 27v4h1v-4zM12 35v4h1v-4zM12 42v2h1v-2zM12 50v1h1v-1zM12 57v1h1v-1zM12 60v1h1v-1zM12 62v1h1v-1zM12 64v2h1v-2zM12 68v2h1v-2zM13 0v1h1v-1zM13 3v1h1v-1zM13 5v1h1v-1zM13 16v2h1v-2zM13 21v1h1v-1zM13 23v1h1v-1zM13 25v1h1v-1zM13 32v1h1v-1zM13 54v2h1v-2zM13 64v1h1v-1zM13 67v1h1v-1zM13 69v1h1v-1zM14 8v2h1v-2zM14 22v2h1v-2zM14 28v5h1v-5zM14 34v5h1v-5zM14 43v1h1v-1zM14 48v3h1v-3zM14 57v3h1v-3zM14 68v4h1v-4zM15 5v2h1v-2zM15 8v2h1v-2zM15 19v6h1v-6zM15 26v1h1v-1zM15 33v1h1v-1zM15 35v2h1v-2zM15 39v5h1v-5zM15 47v1h1v-1zM15 49v2h1v-2zM15 56v1h1v-1zM15 61v3h1v-3zM15 66v2h1v-2zM15 69v1h1v-1zM15 71v1h1v-1zM16 0v1h1v-1zM16 6v1h1v-1zM16 12v1h1v-1zM16 19v1h1v-1zM16 25v1h1v-1zM16 53v1h1v-1zM16 56v1h1v-1zM16 68v4h1v-4zM17 9v2h1v-2zM17 16v2h1v-2zM17 32v3h1v-3zM17 36v1h1v-1zM17 48v1h1v-1zM17 62v1h1v-1zM17 67v2h1v-2zM18 28v2h1v-2zM18 43v2h1v-2zM18 69v1h1v-1zM19 1v1h1v-1zM19 12v1h1v-1zM19 23v1h1v-1zM19 35v1h1v-1zM19 43v3h1v-3zM19 64v1h1v-1zM20 3v3h1v-3zM20 11v3h1v-3zM20 15v2h1v-2zM20 19v1h1v-1zM20 28v1h1v-1zM20 31v1h1v-1zM20 57v2h1v-2zM20 61v1h1v-1zM20 63v1h1v-1zM21 0v1h1v-1zM21 5v1h1v-1zM21 7v3h1v-3zM21 18v2h1v-2zM21 31v2h1v-2zM21 37v4h1v-4zM21 42v1h1v-1zM21 47v3h1v-3zM21 52v1h1v-1zM21 59v1h1v-1zM21 66v2h1v-2zM22 1v1h1v-1zM22 6v1h1v-1zM22 8v1h1v-1zM22 14v1h1v-1zM22 19v1h1v-1zM22 21v1h1v-1zM22 23v2h1v-2zM22 50v3h1v-3zM22 60v1h1v-1zM22 63v2h1v-2zM22 66v1h1v-1zM23 6v1h1v-1zM23 10v1h1v-1zM23 12v5h1v-5zM23 19v2h1v-2zM23 23v2h1v-2zM23 59v1h1v-1zM23 61v1h1v-1zM23 63v2h1v-2zM23 67v3h1v-3zM24 1v2h1v-2zM24 5v4h1v-4zM24 13v1h1v-1zM24 17v2h1v-2zM24 23v1h1v-1zM24 26v2h1v-2zM24 40v1h1v-1zM24 50v1h1v-1zM24 57v1h1v-1zM25 0v1h1v-1zM25 4v1h1v-1zM25 6v1h1v-1zM25 9v3h1v-3zM25 18v3h1v-3zM25 25v2h1v-2zM25 30v3h1v-3zM25 38v2h1v-2zM25 41v1h1v-1zM25 48v2h1v-2zM25 53v1h1v-1zM25 59v1h1v-1zM25 61v1h1v-1zM25 63v1h1v-1zM25 67v1h1v-1zM26 4v1h1v-1zM26 10v1h1v-1zM26 19v1h1v-1zM26 22v1h1v-1zM26 37v1h1v-1zM26 49v1h1v-1zM26 58v1h1v-1zM26 60v1h1v-1zM26 66v1h1v-1zM26 71v1h1v-1zM27 1v2h1v-2zM27 11v1h1v-1zM27 22v4h1v-4zM27 29v1h1v-1zM27 38v1h1v-1zM27 43v1h1v-1zM27 52v1h1v-1zM27 67v1h1v-1zM28 11v1h1v-1zM28 16v2h1v-2zM28 24v1h1v-1zM28 26v2h1v-2zM28 33v1h1v-1zM28 38v1h1v-1zM28 41v1h1v-1zM28 44v1h1v-1zM28 48v1h1v-1zM28 59v1h1v-1zM28 61v1h1v-1zM28 64v2h1v-2zM28 67v1h1v-1zM28 69v1h1v-1zM29 3v4h1v-4zM29 12v2h1v-2zM29 16v7h1v-7zM29 26v1h1v-1zM29 39v2h1v-2zM29 45v3h1v-3zM29 57v1h1v-1zM29 67v3h1v-3zM30 9v2h1v-2zM30 13v1h1v-1zM30 15v2h1v-2zM30 24v1h1v-1zM30 28v3h1v-3zM30 33v1h1v-1zM30 56v1h1v-1zM31 25v1h1v-1zM31 31v1h1v-1zM31 47v1h1v-1zM31 49v7h1v-7zM32 11v2h1v-2zM32 19v1h1v-1zM32 26v3h1v-3zM32 44v1h1v-1zM32 55v1h1v-1zM32 61v1h1v-1zM32 68v1h1v-1zM33 17v1h1v-1zM33 25v2h1v-2zM33 28v1h1v-1zM33 37v2h1v-2zM33 46v1h1v-1zM33 49v2h1v-2zM33 54v1h1v-1zM33 58v4h1v-4zM33 66v1h1v-1zM34 0v1h1v-1zM34 2v1h1v-1zM34 6v5h1v-5zM34 18v1h1v-1zM34 22v1h1v-1zM34 35v3h1v-3zM34 49v1h1v-1zM34 51v1h1v-1zM34 58v4h1v-4zM35 4v2h1v-2zM35 7v1h1v-1zM35 11v2h1v-2zM35 14v3h1v-3zM35 28v1h1v-1zM35 33v1h1v-1zM35 43v1h1v-1zM35 45v1h1v-1zM35 48v1h1v-1zM35 50v2h1v-2zM35 54v2h1v-2zM35 59v6h1v-6zM35 69v1h1v-1zM36 20v3h1v-3zM36 33v1h1v-1zM36 49v1h1v-1zM36 54v1h1v-1zM37 8v1h1v-1zM37 19v1h1v-1zM37 22v1h1v-1zM37 29v2h1v-2zM37 35v2h1v-2zM37 46v1h1v-1zM37 50v2h1v-2zM37 61v2h1v-2zM37 65v3h1v-3zM38 3v1h1v-1zM38 7v2h1v-2zM38 17v1h1v-1zM38 31v1h1v-1zM38 47v5h1v-5zM38 56v2h1v-2zM38 67v1h1v-1zM38 71v1h1v-1zM39 0v1h1v-1zM39 11v5h1v-5zM39 17v2h1v-2zM39 22v1h1v-1zM39 26v2h1v-2zM39 31v1h1v-1zM39 33v1h1v-1zM39 42v1h1v-1zM39 47v3h1v-3zM39 54v1h1v-1zM39 60v3h1v-3zM39 68v4h1v-4zM40 2v10h1v-10zM40 14v2h1v-2zM40 17v2h1v-2zM40 20v2h1v-2zM40 27v2h1v-2zM40 31v1h1v-1zM40 36v2h1v-2zM40 40v1h1v-1zM40 48v4h1v-4zM40 53v2h1v-2zM40 56v1h1v-1zM40 59v1h1v-1zM40 62v1h1v-1zM40 65v5h1v-5zM41 2v2h1v-2zM41 7v1h1v-1zM41 9v3h1v-3zM41 23v2h1v-2zM41 39v5h1v-5zM41 48v1h1v-1zM41 60v2h1v-2zM41 63v1h1v-1zM42 10v1h1v-1zM42 12v3h1v-3zM42 16v2h1v-2zM42 22v2h1v-2zM42 29v1h1v-1zM42 32v1h1v-1zM42 36v2h1v-2zM42 49v2h1v-2zM43 0v1h1v-1zM43 7v2h1v-2zM43 13v1h1v-1zM43 19v2h1v-2zM43 24v2h1v-2zM43 31v4h1v-4zM43 36v1h1v-1zM43 49v1h1v-1zM43 56v1h1v-1zM43 61v1h1v-1zM43 63v1h1v-1zM43 65v1h1v-1zM43 68v1h1v-1zM43 71v1h1v-1zM44 12v3h1v-3zM44 39v2h1v-2zM44 47v1h1v-1zM44 53v2h1v-2zM44 57v1h1v-1zM44 59v2h1v-2zM45 0v2h1v-2zM45 17v1h1v-1zM45 19v1h1v-1zM45 23v1h1v-1zM45 61v1h1v-1zM45 65v2h1v-2zM46 6v2h1v-2zM46 14v2h1v-2zM46 24v2h1v-2zM46 42v1h1v-1zM46 48v1h1v-1zM46 57v3h1v-3zM47 0v1h1v-1zM47 2v1h1v-1zM47 12v4h1v-4zM47 20v2h1v-2zM47 26v1h1v-1zM47 28v2h1v-2zM47 31v1h1v-1zM47 33v1h1v-1zM47 36v1h1v-1zM47 40v2h1v-2zM47 43v5h1v-5zM47 50v5h1v-5zM47 58v3h1v-3zM47 62v2h1v-2zM47 66v1h1v-1zM47 68v1h1v-1zM47 71v1h1v-1zM48 3v1h1v-1zM48 7v1h1v-1zM48 15v3h1v-3zM48 20v3h1v-3zM48 24v1h1v-1zM48 28v1h1v-1zM48 33v1h1v-1zM48 36v1h1v-1zM48 51v1h1v-1zM48 58v2h1v-2zM48 64v1h1v-1zM49 9v1h1v-1zM49 13v4h1v-4zM49 22v1h1v-1zM49 26v1h1v-1zM49 29v1h1v-1zM49 34v3h1v-3zM49 43v1h1v-1zM49 47v2h1v-2zM49 60v4h1v-4zM49 66v1h1v-1zM49 71v1h1v-1zM50 0v1h1v-1zM50 15v1h1v-1zM50 31v1h1v-1zM50 35v1h1v-1zM50 42v1h1v-1zM50 63v2h1v-2zM51 31v1h1v-1zM51 39v1h1v-1zM51 45v1h1v-1zM51 56v2h1v-2zM51 66v1h1v-1zM52 5v1h1v-1zM52 24v1h1v-1zM52 56v4h1v-4zM52 70v1h1v-1zM53 10v1h1v-1zM53 20v2h1v-2zM53 31v2h1v-2zM53 38v2h1v-2zM53 49v1h1v-1zM53 64v4h1v-4zM54 0v1h1v-1zM54 3v1h1v-1zM54 7v2h1v-2zM54 15v6h1v-6zM54 22v2h1v-2zM54 26v1h1v-1zM54 30v3h1v-3zM54 38v4h1v-4zM54 68v2h1v-2zM54 71v1h1v-1zM55 0v1h1v-1zM55 6v1h1v-1zM55 12v1h1v-1zM55 14v3h1v-3zM55 18v1h1v-1zM55 35v1h1v-1zM55 41v4h1v-4zM55 55v1h1v-1zM55 60v2h1v-2zM55 70v2h1v-2zM56 0v1h1v-1zM56 11v2h1v-2zM56 14v1h1v-1zM56 16v2h1v-2zM56 31v5h1v-5zM56 40v1h1v-1zM56 47v2h1v-2zM56 53v3h1v-3zM56 68v1h1v-1zM57 4v1h1v-1zM57 45v3h1v-3zM58 1v1h1v-1zM58 17v1h1v-1zM58 21v1h1v-1zM58 32v1h1v-1zM58 40v3h1v-3zM58 65v1h1v-1zM59 7v3h1v-3zM59 13v1h1v-1zM59 16v1h1v-1zM59 28v2h1v-2zM59 42v2h1v-2zM59 45v3h1v-3zM59 51v1h1v-1zM59 57v1h1v-1zM59 64v1h1v-1zM60 9v2h1v-2zM60 20v1h1v-1zM60 22v2h1v-2zM60 26v2h1v-2zM60 33v1h1v-1zM60 39v3h1v-3zM60 44v1h1v-1zM60 48v1h1v-1zM60 50v1h1v-1zM60 53v6h1v-6zM60 60v4h1v-4zM60 67v1h1v-1zM61 1v3h1v-3zM61 5v2h1v-2zM61 10v1h1v-1zM61 12v1h1v-1zM61 18v1h1v-1zM61 20v2h1v-2zM61 29v2h1v-2zM61 32v2h1v-2zM61 36v1h1v-1zM61 44v2h1v-2zM61 47v4h1v-4zM61 58v4h1v-4zM61 65v2h1v-2zM61 68v4h1v-4zM62 2v1h1v-1zM62 5v1h1v-1zM62 22v2h1v-2zM62 27v1h1v-1zM62 29v1h1v-1zM62 32v5h1v-5zM62 47v3h1v-3zM62 51v2h1v-2zM62 54v1h1v-1zM62 58v1h1v-1zM62 61v3h1v-3zM62 66v4h1v-4zM63 5v3h1v-3zM63 10v2h1v-2zM63 15v1h1v-1zM63 19v3h1v-3zM63 25v2h1v-2zM63 30v4h1v-4zM63 37v2h1v-2zM63 41v1h1v-1zM63 52v3h1v-3zM63 71v1h1v-1zM64 3v1h1v-1zM64 5v1h1v-1zM64 13v1h1v-1zM64 15v2h1v-2zM64 30v2h1v-2zM64 37v1h1v-1zM64 39v1h1v-1zM64 41v2h1v-2zM64 48v3h1v-3zM64 55v1h1v-1zM64 59v2h1v-2zM64 68v2h1v-2zM65 3v1h1v-1zM65 12v1h1v-1zM65 15v1h1v-1zM65 28v1h1v-1zM65 30v3h1v-3zM65 38v2h1v-2zM65 44v1h1v-1zM65 63v1h1v-1zM65 70v1h1v-1zM66 5v1h1v-1zM66 23v1h1v-1zM66 31v1h1v-1zM66 35v1h1v-1zM66 45v2h1v-2zM66 59v1h1v-1zM66 69v2h1v-2zM67 14v2h1v-2zM67 24v2h1v-2zM67 32v1h1v-1zM67 58v2h1v-2zM67 62v3h1v-3zM68 0v1h1v-1zM68 20v1h1v-1zM68 29v1h1v-1zM68 37v4h1v-4zM68 46v1h1v-1zM68 66v1h1v-1zM69 3v1h1v-1zM69 7v2h1v-2zM69 11v1h1v-1zM69 18v2h1v-2zM69 21v1h1v-1zM69 36v1h1v-1zM69 39v1h1v-1zM69 42v3h1v-3zM69 46v1h1v-1zM69 49v1h1v-1zM69 56v2h1v-2zM69 69v2h1v-2zM70 0v1h1v-1zM70 6v3h1v-3zM70 10v2h1v-2zM70 15v3h1v-3zM70 20v1h1v-1zM70 30v2h1v-2zM70 35v2h1v-2zM70 42v2h1v-2zM70 45v3h1v-3zM70 53v1h1v-1zM70 56v3h1v-3zM70 60v1h1v-1zM70 62v4h1v-4zM71 10v1h1v-1zM71 15v1h1v-1zM71 22v2h1v-2zM71 29v1h1v-1zM71 34v1h1v-1zM71 36v4h1v-4zM71 42v1h1v-1zM71 44v1h1v-1zM71 47v1h1v-1zM71 49v1h1v-1zM71 51v3h1v-3zM71 56v1h1v-1zM71 58v1h1v-1zM71 60v1h1v-1zM71 66v2h1v-2zM72 3v1h1v-1zM72 6v1h1v-1zM72 12v3h1v-3zM72 20v1h1v-1zM72 23v6h1v-6zM72 30v2h1v-2zM72 39v2h1v-2zM72 46v1h1v-1zM72 48v1h1v-1zM72 52v1h1v-1zM72 54v2h1v-2zM72 62v1h1v-1zM72 69v1h1v-1zM72 71v1h1v-1zM73 0v2h1v-2zM73 3v1h1v-1zM73 6v1h1v-1zM73 8v2h1v-2zM73 14v3h1v-3zM73 24v1h1v-1zM73 45v1h1v-1zM73 48v1h1v-1zM73 54v1h1v-1zM73 62v1h1v-1zM74 5v1h1v-1zM74 8v1h1v-1zM74 13v1h1v-1zM74 39v1h1v-1zM74 60v1h1v-1zM74 62v1h1v-1zM74 64v1h1v-1zM74 68v1h1v-1zM74 70v2h1v-2zM75 2v1h1v-1zM75 4v1h1v-1zM75 7v1h1v-1zM75 9v1h1v-1zM75 16v1h1v-1zM75 20v1h1v-1zM75 25v2h1v-2zM75 29v1h1v-1zM75 32v1h1v-1zM75 37v1h1v-1zM75 43v1h1v-1zM75 45v1h1v-1zM75 48v1h1v-1zM75 57v2h1v-2zM75 60v2h1v-2zM75 65v4h1v-4zM75 70v1h1v-1zM76 9v2h1v-2zM76 15v3h1v-3zM76 19v1h1v-1zM76 23v2h1v-2zM76 26v2h1v-2zM76 29v3h1v-3zM76 38v2h1v-2zM76 49v1h1v-1zM76 54v2h1v-2zM76 59v1h1v-1zM76 71v1h1v-1zM77 2v4h1v-4zM77 13v1h1v-1zM77 19v1h1v-1zM77 28v1h1v-1zM77 31v1h1v-1zM77 36v2h1v-2zM77 50v3h1v-3zM77 57v1h1v-1zM77 66v3h1v-3zM78 0v1h1v-1zM78 3v1h1v-1zM78 5v1h1v-1zM78 9v1h1v-1zM78 18v1h1v-1zM78 40v2h1v-2zM78 47v1h1v-1zM78 56v1h1v-1zM78 66v2h1v-2zM79 7v1h1v-1zM79 18v1h1v-1zM79 20v1h1v-1zM79 22v3h1v-3zM79 26v1h1v-1zM79 32v4h1v-4zM79 37v2h1v-2zM79 46v1h1v-1zM79 51v2h1v-2zM79 55v1h1v-1zM79 59v3h1v-3zM79 64v2h1v-2zM80 0v1h1v-1zM80 2v1h1v-1zM80 8v4h1v-4zM80 13v1h1v-1zM80 15v3h1v-3zM80 20v3h1v-3zM80 24v1h1v-1zM80 26v3h1v-3zM80 32v2h1v-2zM80 37v7h1v-7zM80 47v2h1v-2zM80 55v2h1v-2zM80 58v2h1v-2zM80 64v1h1v-1zM80 67v1h1v-1zM81 2v1h1v-1zM81 5v2h1v-2zM81 16v1h1v-1zM81 19v1h1v-1zM81 23v3h1v-3zM81 28v2h1v-2zM81 32v1h1v-1zM81 34v1h1v-1zM81 42v1h1v-1zM81 55v3h1v-3zM81 63v2h1v-2zM82 16v1h1v-1zM82 35v2h1v-2zM82 45v2h1v-2zM82 52v2h1v-2zM82 56v5h1v-5zM82 64v1h1v-1zM83 2v1h1v-1zM83 10v2h1v-2zM83 54v1h1v-1zM83 57v1h1v-1zM83 71v1h1v-1zM84 3v1h1v-1zM84 15v3h1v-3zM84 22v2h1v-2zM84 26v1h1v-1zM84 29v2h1v-2zM84 46v2h1v-2zM84 66v1h1v-1zM84 68v1h1v-1zM85 0v1h1v-1zM85 12v2h1v-2zM85 19v1h1v-1zM85 21v3h1v-3zM85 26v2h1v-2zM85 34v1h1v-1zM85 52v1h1v-1zM85 60v1h1v-1zM85 69v2h1v-2zM86 2v2h1v-2zM86 5v1h1v-1zM86 11v2h1v-2zM86 14v3h1v-3zM86 18v1h1v-1zM86 23v1h1v-1zM86 28v1h1v-1zM86 34v3h1v-3zM86 41v2h1v-2zM86 44v1h1v-1zM86 51v1h1v-1zM86 54v1h1v-1zM86 57v3h1v-3zM86 68v4h1v-4zM87 5v1h1v-1zM87 7v1h1v-1zM87 12v2h1v-2zM87 17v6h1v-6zM87 25v1h1v-1zM87 46v1h1v-1zM87 53v5h1v-5zM87 61v1h1v-1zM87 68v4h1v-4zM88 5v1h1v-1zM88 9v2h1v-2zM88 12v1h1v-1zM88 14v1h1v-1zM88 16v1h1v-1zM88 21v5h1v-5zM88 38v1h1v-1zM88 56v1h1v-1zM88 59v3h1v-3zM89 0v3h1v-3zM89 38v1h1v-1zM89 49v1h1v-1zM89 61v1h1v-1zM90 7v2h1v-2zM90 21v3h1v-3zM90 28v1h1v-1zM90 58v1h1v-1zM90 61v1h1v-1zM90 63v2h1v-2zM91 1v1h1v-1zM91 3v4h1v-4zM91 10v1h1v-1zM91 14v1h1v-1zM91 16v5h1v-5zM91 23v2h1v-2zM91 27v1h1v-1zM91 34v1h1v-1zM91 36v1h1v-1zM91 38v1h1v-1zM91 45v2h1v-2zM91 48v2h1v-2zM91 54v1h1v-1zM91 60v1h1v-1zM91 63v2h1v-2zM91 66v2h1v-2zM92 3v1h1v-1zM92 11v1h1v-1zM92 30v1h1v-1zM92 37v1h1v-1zM92 46v1h1v-1zM92 56v2h1v-2zM92 62v1h1v-1zM93 5v2h1v-2zM93 59v1h1v-1zM93 65v1h1v-1zM93 69v1h1v-1zM94 0v3h1v-3zM94 6v1h1v-1zM94 12v1h1v-1zM94 16v3h1v-3zM94 22v4h1v-4zM94 28v1h1v-1zM94 30v2h1v-2zM94 36v1h1v-1zM94 39v2h1v-2zM94 43v2h1v-2zM94 53v1h1v-1zM94 56v1h1v-1zM94 58v1h1v-1zM94 60v1h1v-1zM94 62v7h1v-7zM95 0v1h1v-1zM95 5v1h1v-1zM95 7v1h1v-1zM95 12v2h1v-2zM95 15v2h1v-2zM95 38v1h1v-1zM95 47v1h1v-1zM95 54v2h1v-2zM95 63v3h1v-3zM95 68v4h1v-4z" fill="#B175B6"/>
<path d="M0 8v1h1v-1zM0 53v3h1v-3zM0 60v1h1v-1zM1 6v1h1v-1zM1 16v1h1v-1zM1 23v1h1v-1zM1 31v3h1v-3zM1 38v1h1v-1zM1 42v1h1v-1zM1 46v1h1v-1zM1 54v1h1v-1zM1 59v1h1v-1zM2 1v1h1v-1zM2 6v1h1v-1zM2 8v1h1v-1zM2 14v1h1v-1zM2 16v3h1v-3zM2 21v1h1v-1zM2 25v2h1v-2zM2 28v1h1v-1zM2 38v1h1v-1zM2 43v1h1v-1zM2 70v2h1v-2zM3 11v1h1v-1zM3 16v1h1v-1zM3 29v1h1v-1zM3 34v1h1v-1zM3 38v1h1v-1zM3 56v1h1v-1zM4 5v2h1v-2zM4 29v1h1v-1zM4 31v1h1v-1zM4 48v1h1v-1zM4 59v2h1v-2zM4 71v1h1v-1zM6 38v2h1v-2zM7 14v1h1v-1zM7 50v1h1v-1zM7 54v4h1v-4zM7 62v2h1v-2zM8 0v2h1v-2zM8 3v2h1v-2zM8 10v1h1v-1zM8 16v3h1v-3zM8 30v1h1v-1zM8 35v1h1v-1zM8 41v3h1v-3zM8 45v2h1v-2zM8 49v1h1v-1zM8 57v1h1v-1zM8 65v1h1v-1zM8 68v1h1v-1zM8 70v2h1v-2zM9 14v1h1v-1zM9 16v1h1v-1zM9 21v2h1v-2zM9 31v2h1v-2zM9 42v2h1v-2zM9 56v2h1v-2zM9 60v1h1v-1zM9 69v1h1v-1zM9 71v1h1v-1zM10 9v1h1v-1zM11 35v2h1v-2zM12 5v2h1v-2zM12 13v1h1v-1zM12 31v2h1v-2zM12 47v1h1v-1zM12 52v1h1v-1zM12 70v1h1v-1zM13 24v1h1v-1zM13 33v1h1v-1zM13 42v3h1v-3zM13 46v1h1v-1zM13 49v4h1v-4zM14 3v1h1v-1zM14 12v5h1v-5zM14 24v2h1v-2zM14 41v1h1v-1zM14 52v1h1v-1zM14 56v1h1v-1zM14 63v3h1v-3zM15 3v2h1v-2zM15 7v1h1v-1zM15 10v1h1v-1zM15 13v5h1v-5zM15 25v1h1v-1zM15 27v1h1v-1zM15 31v1h1v-1zM15 37v1h1v-1zM15 46v1h1v-1zM15 55v1h1v-1zM15 70v1h1v-1zM16 4v1h1v-1zM16 21v3h1v-3zM16 26v1h1v-1zM16 30v1h1v-1zM16 35v1h1v-1zM16 37v1h1v-1zM16 40v1h1v-1zM16 44v1h1v-1zM16 51v1h1v-1zM16 61v1h1v-1zM17 12v2h1v-2zM17 37v2h1v-2zM17 61v1h1v-1zM18 63v1h1v-1zM19 18v3h1v-3zM19 36v1h1v-1zM20 6v1h1v-1zM20 49v3h1v-3zM20 55v1h1v-1zM21 10v5h1v-5zM21 21v1h1v-1zM21 23v1h1v-1zM21 25v1h1v-1zM21 28v3h1v-3zM21 54v1h1v-1zM21 56v3h1v-3zM21 71v1h1v-1zM22 0v1h1v-1zM22 2v1h1v-1zM22 9v1h1v-1zM22 15v2h1v-2zM22 18v1h1v-1zM22 27v3h1v-3zM22 37v2h1v-2zM22 40v1h1v-1zM22 55v1h1v-1zM22 65v1h1v-1zM22 68v1h1v-1zM23 3v1h1v-1zM23 7v3h1v-3zM23 28v4h1v-4zM23 35v1h1v-1zM23 38v1h1v-1zM23 40v1h1v-1zM23 52v3h1v-3zM23 71v1h1v-1zM24 16v1h1v-1zM24 56v1h1v-1zM24 58v1h1v-1zM24 68v1h1v-1zM25 3v1h1v-1zM25 8v1h1v-1zM25 12v1h1v-1zM25 15v2h1v-2zM25 24v1h1v-1zM25 34v1h1v-1zM25 45v3h1v-3zM25 54v2h1v-2zM25 57v1h1v-1zM26 45v1h1v-1zM26 50v2h1v-2zM28 0v1h1v-1zM28 4v1h1v-1zM28 19v1h1v-1zM28 28v4h1v-4zM28 42v2h1v-2zM28 51v1h1v-1zM28 54v1h1v-1zM28 60v1h1v-1zM28 68v1h1v-1zM28 70v1h1v-1zM29 1v1h1v-1zM29 8v1h1v-1zM29 23v3h1v-3zM29 29v7h1v-7zM29 43v1h1v-1zM29 53v1h1v-1zM29 59v1h1v-1zM29 63v1h1v-1zM29 70v2h1v-2zM30 7v2h1v-2zM30 20v2h1v-2zM30 23v1h1v-1zM30 25v3h1v-3zM30 37v1h1v-1zM30 46v1h1v-1zM32 64v2h1v-2zM33 7v2h1v-2zM33 47v1h1v-1zM33 68v1h1v-1zM34 11v3h1v-3zM34 16v2h1v-2zM34 19v2h1v-2zM34 28v2h1v-2zM34 34v1h1v-1zM34 38v2h1v-2zM34 46v1h1v-1zM34 48v1h1v-1zM34 50v1h1v-1zM34 52v2h1v-2zM34 56v1h1v-1zM34 63v1h1v-1zM35 1v2h1v-2zM35 6v1h1v-1zM35 8v1h1v-1zM35 17v1h1v-1zM35 20v3h1v-3zM35 24v2h1v-2zM35 30v3h1v-3zM35 34v7h1v-7zM35 42v1h1v-1zM35 52v2h1v-2zM35 57v2h1v-2zM36 8v1h1v-1zM36 57v5h1v-5zM36 70v1h1v-1zM37 24v1h1v-1zM37 47v1h1v-1zM38 0v2h1v-2zM38 10v1h1v-1zM38 20v3h1v-3zM38 28v1h1v-1zM38 40v1h1v-1zM38 44v1h1v-1zM38 55v1h1v-1zM38 58v2h1v-2zM38 63v1h1v-1zM39 8v3h1v-3zM39 39v1h1v-1zM39 45v1h1v-1zM39 51v1h1v-1zM39 55v4h1v-4zM39 63v1h1v-1zM39 66v1h1v-1zM40 1v1h1v-1zM40 16v1h1v-1zM40 19v1h1v-1zM40 24v3h1v-3zM40 32v1h1v-1zM40 35v1h1v-1zM40 38v2h1v-2zM40 41v4h1v-4zM40 46v1h1v-1zM40 55v1h1v-1zM40 61v1h1v-1zM40 70v2h1v-2zM41 4v2h1v-2zM41 12v2h1v-2zM41 34v1h1v-1zM41 66v1h1v-1zM42 8v2h1v-2zM42 11v1h1v-1zM43 2v2h1v-2zM43 21v1h1v-1zM43 23v1h1v-1zM43 27v3h1v-3zM43 43v2h1v-2zM43 55v1h1v-1zM43 59v2h1v-2zM43 64v1h1v-1zM43 67v1h1v-1zM44 27v3h1v-3zM44 51v2h1v-2zM44 55v2h1v-2zM45 6v2h1v-2zM45 32v1h1v-1zM45 45v2h1v-2zM45 51v1h1v-1zM47 1v1h1v-1zM47 3v1h1v-1zM47 6v3h1v-3zM47 10v1h1v-1zM47 16v4h1v-4zM47 23v3h1v-3zM47 32v1h1v-1zM47 37v1h1v-1zM47 48v1h1v-1zM47 55v1h1v-1zM48 2v1h1v-1zM48 8v3h1v-3zM48 34v1h1v-1zM48 38v2h1v-2zM48 42v2h1v-2zM48 53v1h1v-1zM48 55v1h1v-1zM48 60v2h1v-2zM48 63v1h1v-1zM49 4v2h1v-2zM49 7v2h1v-2zM49 23v3h1v-3zM49 39v2h1v-2zM49 52v1h1v-1zM49 67v4h1v-4zM50 25v1h1v-1zM50 65v1h1v-1zM51 24v1h1v-1zM52 50v1h1v-1zM52 55v1h1v-1zM53 0v3h1v-3zM53 11v4h1v-4zM53 18v2h1v-2zM53 22v1h1v-1zM53 33v1h1v-1zM53 35v1h1v-1zM53 50v3h1v-3zM53 56v3h1v-3zM53 61v1h1v-1zM54 4v1h1v-1zM54 11v4h1v-4zM54 27v2h1v-2zM54 36v2h1v-2zM54 43v1h1v-1zM54 47v1h1v-1zM54 50v6h1v-6zM54 60v3h1v-3zM55 8v1h1v-1zM55 17v1h1v-1zM55 19v1h1v-1zM55 21v4h1v-4zM55 37v1h1v-1zM55 39v2h1v-2zM55 48v1h1v-1zM55 52v1h1v-1zM55 62v2h1v-2zM55 67v1h1v-1zM56 5v1h1v-1zM56 8v1h1v-1zM56 15v1h1v-1zM56 18v1h1v-1zM56 29v1h1v-1zM56 37v1h1v-1zM56 66v1h1v-1zM57 9v1h1v-1zM57 14v2h1v-2zM57 23v1h1v-1zM57 34v1h1v-1zM57 37v1h1v-1zM58 62v1h1v-1zM59 3v1h1v-1zM59 20v1h1v-1zM59 24v1h1v-1zM59 26v2h1v-2zM59 33v1h1v-1zM59 39v2h1v-2zM59 44v1h1v-1zM59 52v3h1v-3zM60 21v1h1v-1zM60 25v1h1v-1zM60 28v1h1v-1zM60 34v2h1v-2zM60 38v1h1v-1zM60 59v1h1v-1zM60 66v1h1v-1zM61 0v1h1v-1zM61 11v1h1v-1zM61 13v2h1v-2zM61 16v1h1v-1zM61 19v1h1v-1zM61 22v3h1v-3zM61 31v1h1v-1zM61 35v1h1v-1zM61 39v1h1v-1zM61 41v3h1v-3zM61 46v1h1v-1zM61 53v5h1v-5zM61 62v1h1v-1zM62 1v1h1v-1zM62 8v1h1v-1zM62 19v3h1v-3zM62 43v2h1v-2zM62 53v1h1v-1zM62 55v2h1v-2zM62 59v2h1v-2zM62 65v1h1v-1zM62 70v2h1v-2zM63 1v1h1v-1zM63 4v1h1v-1zM63 14v1h1v-1zM63 17v1h1v-1zM63 24v1h1v-1zM63 27v2h1v-2zM63 34v3h1v-3zM63 42v1h1v-1zM63 46v4h1v-4zM63 60v3h1v-3zM63 67v3h1v-3zM64 9v1h1v-1zM64 19v1h1v-1zM64 21v4h1v-4zM64 29v1h1v-1zM64 56v3h1v-3zM65 5v1h1v-1zM65 40v1h1v-1zM65 60v1h1v-1zM65 68v1h1v-1zM66 14v1h1v-1zM66 30v1h1v-1zM66 51v1h1v-1zM66 66v2h1v-2zM67 0v1h1v-1zM67 8v1h1v-1zM67 20v1h1v-1zM67 41v1h1v-1zM68 32v4h1v-4zM68 43v1h1v-1zM68 54v1h1v-1zM68 61v1h1v-1zM68 64v1h1v-1zM69 10v1h1v-1zM69 15v2h1v-2zM69 25v2h1v-2zM69 33v1h1v-1zM69 62v2h1v-2zM69 65v1h1v-1zM70 14v1h1v-1zM70 24v2h1v-2zM70 27v2h1v-2zM70 33v2h1v-2zM70 37v2h1v-2zM70 50v3h1v-3zM70 55v1h1v-1zM70 66v2h1v-2zM71 7v1h1v-1zM71 11v4h1v-4zM71 21v1h1v-1zM71 30v3h1v-3zM71 45v1h1v-1zM71 48v1h1v-1zM71 59v1h1v-1zM71 65v1h1v-1zM71 68v1h1v-1zM72 1v2h1v-2zM72 4v1h1v-1zM72 16v1h1v-1zM72 18v2h1v-2zM72 32v1h1v-1zM72 42v1h1v-1zM72 44v2h1v-2zM72 49v2h1v-2zM72 57v5h1v-5zM72 63v3h1v-3zM72 70v1h1v-1zM73 4v1h1v-1zM73 46v2h1v-2zM73 55v1h1v-1zM73 63v2h1v-2zM74 32v1h1v-1zM74 35v1h1v-1zM74 44v1h1v-1zM75 8v1h1v-1zM75 21v2h1v-2zM75 27v1h1v-1zM75 30v1h1v-1zM75 33v4h1v-4zM75 40v1h1v-1zM75 44v1h1v-1zM75 50v1h1v-1zM75 54v1h1v-1zM75 59v1h1v-1zM75 71v1h1v-1zM76 1v1h1v-1zM76 5v1h1v-1zM76 8v1h1v-1zM76 32v2h1v-2zM76 45v1h1v-1zM76 48v1h1v-1zM77 70v2h1v-2zM78 2v1h1v-1zM78 6v1h1v-1zM78 10v1h1v-1zM78 14v1h1v-1zM78 17v1h1v-1zM78 31v2h1v-2zM78 44v1h1v-1zM79 2v1h1v-1zM79 9v1h1v-1zM79 15v2h1v-2zM79 21v1h1v-1zM79 25v1h1v-1zM79 27v1h1v-1zM79 41v1h1v-1zM79 44v1h1v-1zM79 57v2h1v-2zM79 68v1h1v-1zM79 71v1h1v-1zM80 7v1h1v-1zM80 18v1h1v-1zM80 29v2h1v-2zM80 45v2h1v-2zM80 49v1h1v-1zM80 54v1h1v-1zM80 60v1h1v-1zM81 1v1h1v-1zM81 9v1h1v-1zM81 13v3h1v-3zM81 18v1h1v-1zM81 31v1h1v-1zM81 35v1h1v-1zM81 43v1h1v-1zM81 51v1h1v-1zM81 53v1h1v-1zM81 58v2h1v-2zM81 65v3h1v-3zM81 69v1h1v-1zM81 71v1h1v-1zM82 17v1h1v-1zM82 20v2h1v-2zM82 50v1h1v-1zM82 70v2h1v-2zM83 1v1h1v-1zM83 9v1h1v-1zM83 24v2h1v-2zM84 20v2h1v-2zM84 25v1h1v-1zM84 27v1h1v-1zM84 33v1h1v-1zM84 38v2h1v-2zM84 60v1h1v-1zM84 63v1h1v-1zM85 8v1h1v-1zM85 10v2h1v-2zM85 15v4h1v-4zM85 20v1h1v-1zM85 24v2h1v-2zM85 31v3h1v-3zM85 39v2h1v-2zM85 48v1h1v-1zM85 56v3h1v-3zM85 62v3h1v-3zM85 66v1h1v-1zM86 0v2h1v-2zM86 6v1h1v-1zM86 17v1h1v-1zM86 24v1h1v-1zM86 46v3h1v-3zM86 52v2h1v-2zM86 56v1h1v-1zM86 61v2h1v-2zM87 0v1h1v-1zM87 3v1h1v-1zM87 8v2h1v-2zM87 27v2h1v-2zM87 31v2h1v-2zM87 44v1h1v-1zM87 62v1h1v-1zM87 65v1h1v-1zM87 67v1h1v-1zM88 3v1h1v-1zM88 6v1h1v-1zM88 8v1h1v-1zM88 11v1h1v-1zM88 34v2h1v-2zM88 44v1h1v-1zM88 48v1h1v-1zM88 54v1h1v-1zM88 57v2h1v-2zM88 62v1h1v-1zM88 64v1h1v-1zM89 23v1h1v-1zM89 26v2h1v-2zM89 34v2h1v-2zM89 57v1h1v-1zM90 24v1h1v-1zM90 34v2h1v-2zM91 11v1h1v-1zM91 21v2h1v-2zM91 31v1h1v-1zM91 33v1h1v-1zM91 35v1h1v-1zM91 37v1h1v-1zM91 50v1h1v-1zM91 55v2h1v-2zM91 58v2h1v-2zM91 70v1h1v-1zM92 19v1h1v-1zM92 27v1h1v-1zM92 31v1h1v-1zM92 68v3h1v-3zM93 28v1h1v-1zM93 35v1h1v-1zM93 46v2h1v-2zM93 64v1h1v-1zM94 3v3h1v-3zM94 8v4h1v-4zM94 14v2h1v-2zM94 27v1h1v-1zM94 37v2h1v-2zM94 41v2h1v-2zM94 45v2h1v-2zM94 54v2h1v-2zM94 61v1h1v-1zM94 69v1h1v-1zM95 17v2h1v-2zM95 28v2h1v-2zM95 32v1h1v-1zM95 35v1h1v-1zM95 41v1h1v-1z" fill="#762A83"/>
</g>
<rect x="736.7" y="576.2" width="494.3" height="371.2" fill="none" stroke="#231F20" stroke-width="3.2" />
<line x1="730.6" y1="578.78" x2="735.2" y2="578.78" stroke="#231F20" stroke-width="2.6" />
<text class="d" x="729.3" y="589.38" font-size="28.6" text-anchor="end" textLength="17.7" lengthAdjust="spacingAndGlyphs" >0</text>
<line x1="730.6" y1="681.88" x2="735.2" y2="681.88" stroke="#231F20" stroke-width="2.6" />
<text class="d" x="729.3" y="692.48" font-size="28.6" text-anchor="end" textLength="35.4" lengthAdjust="spacingAndGlyphs" >20</text>
<line x1="730.6" y1="784.98" x2="735.2" y2="784.98" stroke="#231F20" stroke-width="2.6" />
<text class="d" x="729.3" y="795.58" font-size="28.6" text-anchor="end" textLength="35.4" lengthAdjust="spacingAndGlyphs" >40</text>
<line x1="730.6" y1="888.08" x2="735.2" y2="888.08" stroke="#231F20" stroke-width="2.6" />
<text class="d" x="729.3" y="898.68" font-size="28.6" text-anchor="end" textLength="35.4" lengthAdjust="spacingAndGlyphs" >60</text>
<line x1="739.38" y1="949" x2="739.38" y2="953.4" stroke="#231F20" stroke-width="2.6" />
<text class="d" x="739.08" y="979.2" font-size="28.6" text-anchor="middle" textLength="17.7" lengthAdjust="spacingAndGlyphs" >0</text>
<line x1="868.25" y1="949" x2="868.25" y2="953.4" stroke="#231F20" stroke-width="2.6" />
<text class="d" x="867.95" y="979.2" font-size="28.6" text-anchor="middle" textLength="35.4" lengthAdjust="spacingAndGlyphs" >25</text>
<line x1="997.13" y1="949" x2="997.13" y2="953.4" stroke="#231F20" stroke-width="2.6" />
<text class="d" x="996.83" y="979.2" font-size="28.6" text-anchor="middle" textLength="35.4" lengthAdjust="spacingAndGlyphs" >50</text>
<line x1="1126" y1="949" x2="1126" y2="953.4" stroke="#231F20" stroke-width="2.6" />
<text class="d" x="1125.7" y="979.2" font-size="28.6" text-anchor="middle" textLength="35.4" lengthAdjust="spacingAndGlyphs" >75</text>
<rect x="1245" y="576.2" width="18.8" height="93.07" fill="#762A83" />
<rect x="1245" y="668.98" width="18.8" height="93.07" fill="#B175B6" />
<rect x="1245" y="761.75" width="18.8" height="93.07" fill="#F5B7C9" />
<rect x="1245" y="854.52" width="18.8" height="93.07" fill="#EDECD3" />
<rect x="1245" y="576.2" width="18.8" height="371.1" fill="none" stroke="#231F20" stroke-width="3" />
<line x1="1265" y1="576.2" x2="1269.2" y2="576.2" stroke="#231F20" stroke-width="2.6" />
<text class="d" x="1273.2" y="586.7" font-size="28.6" textLength="35.4" lengthAdjust="spacingAndGlyphs" >75</text>
<line x1="1265" y1="668.98" x2="1269.2" y2="668.98" stroke="#231F20" stroke-width="2.6" />
<text class="d" x="1273.2" y="679.48" font-size="28.6" textLength="35.4" lengthAdjust="spacingAndGlyphs" >65</text>
<line x1="1265" y1="761.75" x2="1269.2" y2="761.75" stroke="#231F20" stroke-width="2.6" />
<text class="d" x="1273.2" y="772.25" font-size="28.6" textLength="35.4" lengthAdjust="spacingAndGlyphs" >50</text>
<line x1="1265" y1="854.52" x2="1269.2" y2="854.52" stroke="#231F20" stroke-width="2.6" />
<text class="d" x="1273.2" y="865.02" font-size="28.6" textLength="35.4" lengthAdjust="spacingAndGlyphs" >35</text>
<line x1="1265" y1="947.3" x2="1269.2" y2="947.3" stroke="#231F20" stroke-width="2.6" />
<text class="d" x="1273.2" y="957.8" font-size="28.6" textLength="35.4" lengthAdjust="spacingAndGlyphs" >15</text>
<text class="d" x="1239.5" y="982.5" font-size="27.5"><tspan font-style="italic">μ</tspan>S</text>
</g>
<g id="panel-f">
<text class="s" x="1319.5" y="541.3" font-size="45" font-weight="bold" >f</text>
<rect x="1444.2" y="587.1" width="85.8" height="363.3" fill="#9DC89C" />
<rect x="1530" y="587.1" width="254.2" height="363.3" fill="#E3CBAF" />
<rect x="1784.2" y="587.1" width="148.6" height="363.3" fill="#AFA59B" />
<polyline points="1466.4,603.2 1529.9,935 1593.4,773.1 1656.9,935 1720.4,636.2 1783.9,934.3 1847.4,934.3 1910.9,934.3" fill="none" stroke="#23B4E9" stroke-width="6" stroke-linejoin="round"/>
<polygon points="1466.4,594.2 1475.53,600.83 1472.04,611.57 1460.76,611.57 1457.27,600.83" fill="#23B4E9" />
<polygon points="1529.9,926 1539.03,932.63 1535.54,943.37 1524.26,943.37 1520.77,932.63" fill="#23B4E9" />
<polygon points="1593.4,764.1 1602.53,770.73 1599.04,781.47 1587.76,781.47 1584.27,770.73" fill="#23B4E9" />
<polygon points="1656.9,926 1666.03,932.63 1662.54,943.37 1651.26,943.37 1647.77,932.63" fill="#23B4E9" />
<polygon points="1720.4,627.2 1729.53,633.83 1726.04,644.57 1714.76,644.57 1711.27,633.83" fill="#23B4E9" />
<polygon points="1783.9,925.3 1793.03,931.93 1789.54,942.67 1778.26,942.67 1774.77,931.93" fill="#23B4E9" />
<polygon points="1847.4,925.3 1856.53,931.93 1853.04,942.67 1841.76,942.67 1838.27,931.93" fill="#23B4E9" />
<polygon points="1910.9,925.3 1920.03,931.93 1916.54,942.67 1905.26,942.67 1901.77,931.93" fill="#23B4E9" />
<polyline points="1466.4,920.5 1529.9,782.2 1593.4,854.3 1656.9,664.3 1720.4,907.5 1783.9,781.7 1847.4,661.9 1910.9,659.9" fill="none" stroke="#3276AB" stroke-width="5.8" stroke-linejoin="round"/>
<circle cx="1466.4" cy="920.5" r="8.8" fill="#3276AB"/>
<circle cx="1529.9" cy="782.2" r="8.8" fill="#3276AB"/>
<circle cx="1593.4" cy="854.3" r="8.8" fill="#3276AB"/>
<circle cx="1656.9" cy="664.3" r="8.8" fill="#3276AB"/>
<circle cx="1720.4" cy="907.5" r="8.8" fill="#3276AB"/>
<circle cx="1783.9" cy="781.7" r="8.8" fill="#3276AB"/>
<circle cx="1847.4" cy="661.9" r="8.8" fill="#3276AB"/>
<circle cx="1910.9" cy="659.9" r="8.8" fill="#3276AB"/>
<line x1="1492" y1="602.8" x2="1566" y2="602.8" stroke="#23B4E9" stroke-width="6" />
<polygon points="1529,593.8 1538.13,600.43 1534.64,611.17 1523.36,611.17 1519.87,600.43" fill="#23B4E9" />
<line x1="1492" y1="635.3" x2="1566" y2="635.3" stroke="#3276AB" stroke-width="5.8" />
<circle cx="1529.3" cy="635.3" r="8.8" fill="#3276AB"/>
<text class="s" x="1584.4" y="615.4" font-size="33.4" style="word-spacing:-4.6px" >Mean dice</text>
<text class="s" x="1584.4" y="646.9" font-size="33.4" textLength="77" lengthAdjust="spacing" >Loss</text>
<rect x="1444.2" y="587.1" width="488.6" height="363.3" fill="none" stroke="#231F20" stroke-width="4.1" />
<line x1="1438.8" y1="934.6" x2="1442.6" y2="934.6" stroke="#231F20" stroke-width="3" />
<text class="d" x="1435.3" y="949.8" font-size="34.5" text-anchor="end" >0.00</text>
<line x1="1438.8" y1="847.6" x2="1442.6" y2="847.6" stroke="#231F20" stroke-width="3" />
<text class="d" x="1435.3" y="862.8" font-size="34.5" text-anchor="end" >0.25</text>
<line x1="1438.8" y1="760.6" x2="1442.6" y2="760.6" stroke="#231F20" stroke-width="3" />
<text class="d" x="1435.3" y="775.8" font-size="34.5" text-anchor="end" >0.50</text>
<line x1="1438.8" y1="673.6" x2="1442.6" y2="673.6" stroke="#231F20" stroke-width="3" />
<text class="d" x="1435.3" y="688.8" font-size="34.5" text-anchor="end" >0.75</text>
<line x1="1438.8" y1="586.6" x2="1442.6" y2="586.6" stroke="#231F20" stroke-width="3" />
<text class="d" x="1435.3" y="601.8" font-size="34.5" text-anchor="end" >1.00</text>
<line x1="1935" y1="951.2" x2="1938.8" y2="951.2" stroke="#231F20" stroke-width="3" />
<text class="d" x="1941.5" y="965.6" font-size="34.5" >0</text>
<line x1="1935" y1="824.9" x2="1938.8" y2="824.9" stroke="#231F20" stroke-width="3" />
<text class="d" x="1941.5" y="839.3" font-size="34.5" >1</text>
<line x1="1935" y1="698.6" x2="1938.8" y2="698.6" stroke="#231F20" stroke-width="3" />
<text class="d" x="1941.5" y="713" font-size="34.5" >2</text>
<line x1="1466.4" y1="952.6" x2="1466.4" y2="956.3" stroke="#231F20" stroke-width="3" />
<text class="d" font-size="34.5" text-anchor="middle" transform="translate(1464.4 1001.3) rotate(-45)" y="12.6">0000</text>
<line x1="1529.9" y1="952.6" x2="1529.9" y2="956.3" stroke="#231F20" stroke-width="3" />
<text class="d" font-size="34.5" text-anchor="middle" transform="translate(1527.9 1001.3) rotate(-45)" y="12.6">0001</text>
<line x1="1593.4" y1="952.6" x2="1593.4" y2="956.3" stroke="#231F20" stroke-width="3" />
<text class="d" font-size="34.5" text-anchor="middle" transform="translate(1591.4 1001.3) rotate(-45)" y="12.6">0010</text>
<line x1="1656.9" y1="952.6" x2="1656.9" y2="956.3" stroke="#231F20" stroke-width="3" />
<text class="d" font-size="34.5" text-anchor="middle" transform="translate(1654.9 1001.3) rotate(-45)" y="12.6">0100</text>
<line x1="1720.4" y1="952.6" x2="1720.4" y2="956.3" stroke="#231F20" stroke-width="3" />
<text class="d" font-size="34.5" text-anchor="middle" transform="translate(1718.4 1001.3) rotate(-45)" y="12.6">1000</text>
<line x1="1783.9" y1="952.6" x2="1783.9" y2="956.3" stroke="#231F20" stroke-width="3" />
<text class="d" font-size="34.5" text-anchor="middle" transform="translate(1781.9 1001.3) rotate(-45)" y="12.6">0011</text>
<line x1="1847.4" y1="952.6" x2="1847.4" y2="956.3" stroke="#231F20" stroke-width="3" />
<text class="d" font-size="34.5" text-anchor="middle" transform="translate(1845.4 1001.3) rotate(-45)" y="12.6">0111</text>
<line x1="1910.9" y1="952.6" x2="1910.9" y2="956.3" stroke="#231F20" stroke-width="3" />
<text class="d" font-size="34.5" text-anchor="middle" transform="translate(1908.9 1001.3) rotate(-45)" y="12.6">1111</text>
<text class="s" x="1572.8" y="571" font-size="33.8" textLength="179" lengthAdjust="spacing" >Single layer</text>
<text class="s" x="1779" y="571" font-size="33.8" textLength="217" lengthAdjust="spacing" >Multiple layers</text>
<text class="s" font-size="33.8" text-anchor="middle" textLength="156" lengthAdjust="spacing" transform="translate(1346.5 768) rotate(-90)" >Mean dice</text>
<text class="s" font-size="33.8" text-anchor="middle" textLength="70" lengthAdjust="spacing" transform="translate(1994 769) rotate(-90)" >Loss</text>
<text class="s" x="1467" y="1075.8" font-size="33.9" textLength="442" lengthAdjust="spacing" >Layer index of wrong weights</text>
</g>
</svg>
</body>
</html>
